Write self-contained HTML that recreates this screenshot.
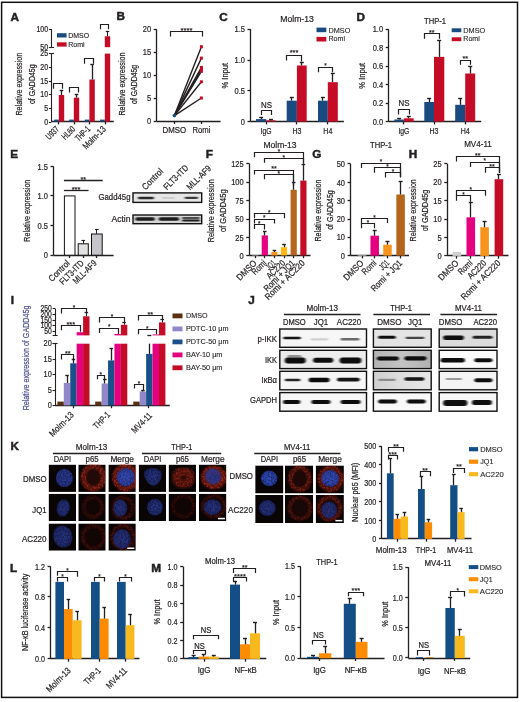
<!DOCTYPE html>
<html><head><meta charset="utf-8"><title>Figure</title>
<style>
html,body{margin:0;padding:0;background:#fff;}
body{width:520px;height:702px;overflow:hidden;}
svg{display:block;font-family:"Liberation Sans",sans-serif;will-change:transform;}
</style></head><body>
<svg width="520" height="702" viewBox="0 0 520 702" fill="#231f20">
<defs>
<filter id="bl" x="-30%" y="-300%" width="160%" height="700%"><feGaussianBlur stdDeviation="1.1 0.65"/></filter>
<filter id="bl2" x="-30%" y="-300%" width="160%" height="700%"><feGaussianBlur stdDeviation="0.9"/></filter>
<filter id="bl3" x="-30%" y="-30%" width="160%" height="160%"><feGaussianBlur stdDeviation="0.6"/></filter>
<filter id="bl4" x="-30%" y="-30%" width="160%" height="160%"><feGaussianBlur stdDeviation="0.35"/></filter>
<radialGradient id="nuc" cx="50%" cy="50%" r="55%">
<stop offset="0" stop-color="#2c3c9c"/><stop offset="0.75" stop-color="#273690"/><stop offset="1" stop-color="#1a2160"/>
</radialGradient>
<radialGradient id="nucb" cx="50%" cy="50%" r="55%">
<stop offset="0" stop-color="#3350c8"/><stop offset="0.7" stop-color="#2b46b4"/><stop offset="1" stop-color="#1c2a78"/>
</radialGradient>
<radialGradient id="nucd" cx="50%" cy="50%" r="55%">
<stop offset="0" stop-color="#27368a"/><stop offset="0.7" stop-color="#212e78"/><stop offset="1" stop-color="#141a4e"/>
</radialGradient>
<linearGradient id="bgT2" x1="0" x2="1" y1="0" y2="0">
<stop offset="0" stop-color="#b4b4b4"/><stop offset="0.5" stop-color="#c4c4c4"/><stop offset="1" stop-color="#b0b0b0"/>
</linearGradient>
<linearGradient id="bgT3" x1="0" x2="1" y1="0" y2="0">
<stop offset="0" stop-color="#cfcfcf"/><stop offset="0.5" stop-color="#dedede"/><stop offset="1" stop-color="#e8e8e8"/>
</linearGradient>
<filter id="spk" x="-20%" y="-20%" width="140%" height="140%" color-interpolation-filters="sRGB">
<feTurbulence type="fractalNoise" baseFrequency="0.55" numOctaves="2" seed="7" result="n"/>
<feColorMatrix in="n" type="matrix" values="0 0 0 0 0 0 0 0 0 0 0 0 0 0 0 5 0 0 0 -2.3" result="a"/>
<feComposite in="SourceGraphic" in2="a" operator="in" result="s"/>
<feGaussianBlur in="s" stdDeviation="0.3"/>
</filter>
<filter id="nspk" x="-20%" y="-20%" width="140%" height="140%" color-interpolation-filters="sRGB">
<feTurbulence type="fractalNoise" baseFrequency="0.6" numOctaves="2" seed="3" result="n"/>
<feColorMatrix in="n" type="matrix" values="0 0 0 0 0 0 0 0 0 0 0 0 0 0 0 1.1 0 0 0 0.25" result="a"/>
<feComposite in="SourceGraphic" in2="a" operator="in" result="s"/>
<feGaussianBlur in="s" stdDeviation="0.3"/>
</filter>
<filter id="rb" x="-30%" y="-30%" width="160%" height="160%"><feGaussianBlur stdDeviation="1.3"/></filter>
</defs>

<rect x="1.6" y="2.3" width="515.9" height="695.1" fill="none" stroke="#111" stroke-width="1.5"/>
<text x="10.64" y="20.8" textLength="8.49" lengthAdjust="spacingAndGlyphs" style="font-size:10.5px;font-weight:bold;stroke:#231f20;stroke-width:0.45px">A</text>
<line x1="51.5" y1="29" x2="51.5" y2="47.5" stroke="#231f20" stroke-width="1.1"/>
<line x1="48.9" y1="29.5" x2="51.3" y2="29.5" stroke="#231f20" stroke-width="1.1"/>
<text x="48.1" y="31.5" text-anchor="end" textLength="11.68" lengthAdjust="spacingAndGlyphs" style="font-size:8.4px;stroke:#231f20;stroke-width:0.22px">100</text>
<line x1="48.9" y1="47.5" x2="51.3" y2="47.5" stroke="#231f20" stroke-width="1.1"/>
<text x="48.1" y="49.5" text-anchor="end" textLength="7.79" lengthAdjust="spacingAndGlyphs" style="font-size:8.4px;stroke:#231f20;stroke-width:0.22px">50</text>
<line x1="51.3" y1="47.5" x2="54.1" y2="47.5" stroke="#231f20" stroke-width="1.1"/>
<line x1="51.5" y1="53.5" x2="51.5" y2="121.6" stroke="#231f20" stroke-width="1.1"/>
<line x1="48.9" y1="53.5" x2="51.3" y2="53.5" stroke="#231f20" stroke-width="1.1"/>
<text x="48.1" y="56" text-anchor="end" textLength="7.79" lengthAdjust="spacingAndGlyphs" style="font-size:8.4px;stroke:#231f20;stroke-width:0.22px">25</text>
<line x1="48.9" y1="67.5" x2="51.3" y2="67.5" stroke="#231f20" stroke-width="1.1"/>
<text x="48.1" y="69.75" text-anchor="end" textLength="7.79" lengthAdjust="spacingAndGlyphs" style="font-size:8.4px;stroke:#231f20;stroke-width:0.22px">20</text>
<line x1="48.9" y1="81.5" x2="51.3" y2="81.5" stroke="#231f20" stroke-width="1.1"/>
<text x="48.1" y="83.5" text-anchor="end" textLength="7.79" lengthAdjust="spacingAndGlyphs" style="font-size:8.4px;stroke:#231f20;stroke-width:0.22px">15</text>
<line x1="48.9" y1="94.5" x2="51.3" y2="94.5" stroke="#231f20" stroke-width="1.1"/>
<text x="48.1" y="97.25" text-anchor="end" textLength="7.79" lengthAdjust="spacingAndGlyphs" style="font-size:8.4px;stroke:#231f20;stroke-width:0.22px">10</text>
<line x1="48.9" y1="108.5" x2="51.3" y2="108.5" stroke="#231f20" stroke-width="1.1"/>
<text x="48.1" y="111" text-anchor="end" textLength="3.89" lengthAdjust="spacingAndGlyphs" style="font-size:8.4px;stroke:#231f20;stroke-width:0.22px">5</text>
<line x1="48.9" y1="122.5" x2="51.3" y2="122.5" stroke="#231f20" stroke-width="1.1"/>
<text x="48.1" y="124.5" text-anchor="end" textLength="3.89" lengthAdjust="spacingAndGlyphs" style="font-size:8.4px;stroke:#231f20;stroke-width:0.22px">0</text>
<line x1="51.3" y1="53.5" x2="54.1" y2="53.5" stroke="#231f20" stroke-width="1.1"/>
<line x1="51.3" y1="121.5" x2="113.8" y2="121.5" stroke="#231f20" stroke-width="1.3"/>
<line x1="58.5" y1="121.6" x2="58.5" y2="124.4" stroke="#231f20" stroke-width="1.3"/>
<line x1="74.5" y1="121.6" x2="74.5" y2="124.4" stroke="#231f20" stroke-width="1.3"/>
<line x1="89.5" y1="121.6" x2="89.5" y2="124.4" stroke="#231f20" stroke-width="1.3"/>
<line x1="105.5" y1="121.6" x2="105.5" y2="124.4" stroke="#231f20" stroke-width="1.3"/>
<rect x="54.2" y="119.6" width="4.6" height="2" fill="#1a4b80"/>
<rect x="58.8" y="95" width="5.4" height="26.6" fill="#c40c26"/>
<line x1="61.5" y1="95" x2="61.5" y2="90.3" stroke="#231f20" stroke-width="1.3"/>
<line x1="59.7" y1="90.5" x2="63.3" y2="90.5" stroke="#231f20" stroke-width="1.4"/>
<rect x="69.2" y="119.6" width="4.6" height="2" fill="#1a4b80"/>
<rect x="73.8" y="97.7" width="5.4" height="23.9" fill="#c40c26"/>
<line x1="76.5" y1="97.7" x2="76.5" y2="94.3" stroke="#231f20" stroke-width="1.3"/>
<line x1="74.7" y1="94.5" x2="78.3" y2="94.5" stroke="#231f20" stroke-width="1.4"/>
<rect x="84.8" y="119.6" width="4.6" height="2" fill="#1a4b80"/>
<rect x="89.4" y="79.5" width="5.4" height="42.1" fill="#c40c26"/>
<line x1="92.5" y1="79.5" x2="92.5" y2="64.8" stroke="#231f20" stroke-width="1.3"/>
<line x1="90.3" y1="64.5" x2="93.9" y2="64.5" stroke="#231f20" stroke-width="1.4"/>
<rect x="100" y="119.6" width="4.8" height="2" fill="#1a4b80"/>
<rect x="104.8" y="53.6" width="5.4" height="68" fill="#c40c26"/>
<rect x="104.8" y="36.3" width="5.4" height="10.9" fill="#c40c26"/>
<line x1="107.5" y1="36.3" x2="107.5" y2="31.3" stroke="#231f20" stroke-width="1"/>
<line x1="105.7" y1="31.5" x2="109.3" y2="31.5" stroke="#231f20" stroke-width="1.2"/>
<polyline points="53.5,88.8 53.5,83.5 62.5,83.5 62.5,88.8" fill="none" stroke="#231f20" stroke-width="1.2"/>
<polyline points="69.5,92.6 69.5,87.5 78.5,87.5 78.5,92.6" fill="none" stroke="#231f20" stroke-width="1.2"/>
<polyline points="84.5,63.8 84.5,58.5 93.5,58.5 93.5,63.8" fill="none" stroke="#231f20" stroke-width="1.2"/>
<polyline points="100.5,29.3 100.5,24.5 108.5,24.5 108.5,29.3" fill="none" stroke="#231f20" stroke-width="1.2"/>
<rect x="57" y="33.2" width="9.6" height="4.3" fill="#1a4b80"/>
<text x="68.2" y="37.8" textLength="21" lengthAdjust="spacingAndGlyphs" style="font-size:7.7px;stroke:#231f20;stroke-width:0.15px">DMSO</text>
<rect x="57" y="42.3" width="9.6" height="4.3" fill="#c40c26"/>
<text x="68.2" y="46.9" textLength="16.34" lengthAdjust="spacingAndGlyphs" style="font-size:7.7px;stroke:#231f20;stroke-width:0.15px">Romi</text>
<text x="22.41" y="84.2" text-anchor="middle" transform="rotate(-90 22.41 84.2)" textLength="62.8" lengthAdjust="spacingAndGlyphs" style="font-size:8.64px;stroke:#231f20;stroke-width:0.22px">Relative expression</text>
<text x="34.71" y="84.2" text-anchor="middle" transform="rotate(-90 34.71 84.2)" textLength="39.7" lengthAdjust="spacingAndGlyphs" style="font-size:8.64px;stroke:#231f20;stroke-width:0.22px">of GADD45g</text>
<text x="59.8" y="129.7" text-anchor="end" transform="rotate(-45 59.8 129.7)" textLength="15" lengthAdjust="spacingAndGlyphs" style="font-size:9px;stroke:#231f20;stroke-width:0.22px">U937</text>
<text x="75.8" y="129.7" text-anchor="end" transform="rotate(-45 75.8 129.7)" textLength="15" lengthAdjust="spacingAndGlyphs" style="font-size:9px;stroke:#231f20;stroke-width:0.22px">HL60</text>
<text x="90.8" y="129.7" text-anchor="end" transform="rotate(-45 90.8 129.7)" textLength="17" lengthAdjust="spacingAndGlyphs" style="font-size:9px;stroke:#231f20;stroke-width:0.22px">THP-1</text>
<text x="106.3" y="129.7" text-anchor="end" transform="rotate(-45 106.3 129.7)" textLength="28.5" lengthAdjust="spacingAndGlyphs" style="font-size:9px;stroke:#231f20;stroke-width:0.22px">Molm-13</text>
<text x="116.64" y="19.8" textLength="8.49" lengthAdjust="spacingAndGlyphs" style="font-size:10.5px;font-weight:bold;stroke:#231f20;stroke-width:0.45px">B</text>
<line x1="156.5" y1="29.2" x2="156.5" y2="121.2" stroke="#231f20" stroke-width="1.3"/>
<line x1="153.7" y1="29.5" x2="156.7" y2="29.5" stroke="#231f20" stroke-width="1.3"/>
<text x="151.1" y="32.44" text-anchor="end" textLength="8.34" lengthAdjust="spacingAndGlyphs" style="font-size:9px;stroke:#231f20;stroke-width:0.22px">20</text>
<line x1="153.7" y1="52.5" x2="156.7" y2="52.5" stroke="#231f20" stroke-width="1.3"/>
<text x="151.1" y="55.44" text-anchor="end" textLength="8.34" lengthAdjust="spacingAndGlyphs" style="font-size:9px;stroke:#231f20;stroke-width:0.22px">15</text>
<line x1="153.7" y1="75.5" x2="156.7" y2="75.5" stroke="#231f20" stroke-width="1.3"/>
<text x="151.1" y="78.44" text-anchor="end" textLength="8.34" lengthAdjust="spacingAndGlyphs" style="font-size:9px;stroke:#231f20;stroke-width:0.22px">10</text>
<line x1="153.7" y1="98.5" x2="156.7" y2="98.5" stroke="#231f20" stroke-width="1.3"/>
<text x="151.1" y="101.44" text-anchor="end" textLength="4.17" lengthAdjust="spacingAndGlyphs" style="font-size:9px;stroke:#231f20;stroke-width:0.22px">5</text>
<line x1="153.7" y1="121.5" x2="156.7" y2="121.5" stroke="#231f20" stroke-width="1.3"/>
<text x="151.1" y="124.34" text-anchor="end" textLength="4.17" lengthAdjust="spacingAndGlyphs" style="font-size:9px;stroke:#231f20;stroke-width:0.22px">0</text>
<line x1="156.7" y1="121.5" x2="220.6" y2="121.5" stroke="#231f20" stroke-width="1.3"/>
<line x1="174.5" y1="121.2" x2="174.5" y2="124" stroke="#231f20" stroke-width="1.3"/>
<line x1="201.5" y1="121.2" x2="201.5" y2="124" stroke="#231f20" stroke-width="1.3"/>
<line x1="174.4" y1="115.6" x2="201.4" y2="46.7" stroke="#231f20" stroke-width="1.4"/>
<line x1="174.4" y1="115.6" x2="201.4" y2="58.1" stroke="#231f20" stroke-width="1.4"/>
<line x1="174.4" y1="115.6" x2="201.4" y2="67.4" stroke="#231f20" stroke-width="1.4"/>
<line x1="174.4" y1="115.6" x2="201.4" y2="69.6" stroke="#231f20" stroke-width="1.4"/>
<line x1="174.4" y1="115.6" x2="201.4" y2="71.3" stroke="#231f20" stroke-width="1.4"/>
<line x1="174.4" y1="115.6" x2="201.4" y2="81.8" stroke="#231f20" stroke-width="1.4"/>
<line x1="174.4" y1="115.6" x2="201.4" y2="98" stroke="#231f20" stroke-width="1.4"/>
<rect x="199.9" y="45.2" width="3" height="3" fill="#c40c26"/>
<rect x="199.9" y="56.6" width="3" height="3" fill="#c40c26"/>
<rect x="199.9" y="65.9" width="3" height="3" fill="#c40c26"/>
<rect x="199.9" y="68.1" width="3" height="3" fill="#c40c26"/>
<rect x="199.9" y="69.8" width="3" height="3" fill="#c40c26"/>
<rect x="199.9" y="80.3" width="3" height="3" fill="#c40c26"/>
<rect x="199.9" y="96.5" width="3" height="3" fill="#c40c26"/>
<circle cx="174.4" cy="115.6" r="1.8" fill="#1a4b80"/>
<polyline points="170.5,36.4 170.5,31.5 202.5,31.5 202.5,36.4" fill="none" stroke="#231f20" stroke-width="1.2"/>
<text x="186.5" y="32.8" text-anchor="middle" textLength="11.8" lengthAdjust="spacingAndGlyphs" style="font-size:8.04px;stroke:#231f20;stroke-width:0.22px">****</text>
<text x="174.4" y="133.3" text-anchor="middle" textLength="23.6" lengthAdjust="spacingAndGlyphs" style="font-size:9.12px;stroke:#231f20;stroke-width:0.22px">DMSO</text>
<text x="201.4" y="133.3" text-anchor="middle" textLength="18" lengthAdjust="spacingAndGlyphs" style="font-size:9.12px;stroke:#231f20;stroke-width:0.22px">Romi</text>
<text x="124.61" y="84" text-anchor="middle" transform="rotate(-90 124.61 84)" textLength="63.2" lengthAdjust="spacingAndGlyphs" style="font-size:8.64px;stroke:#231f20;stroke-width:0.22px">Relative expression</text>
<text x="137.31" y="84.4" text-anchor="middle" transform="rotate(-90 137.31 84.4)" textLength="39.1" lengthAdjust="spacingAndGlyphs" style="font-size:8.64px;stroke:#231f20;stroke-width:0.22px">of GADD45g</text>
<text x="219.24" y="21.3" textLength="8.49" lengthAdjust="spacingAndGlyphs" style="font-size:10.5px;font-weight:bold;stroke:#231f20;stroke-width:0.45px">C</text>
<text x="297" y="22.2" text-anchor="middle" textLength="33.5" lengthAdjust="spacingAndGlyphs" style="font-size:9.12px;stroke:#231f20;stroke-width:0.22px">Molm-13</text>
<line x1="250.5" y1="29.1" x2="250.5" y2="121.6" stroke="#231f20" stroke-width="1.3"/>
<line x1="247.5" y1="29.5" x2="250.5" y2="29.5" stroke="#231f20" stroke-width="1.3"/>
<text x="244.9" y="32.34" text-anchor="end" textLength="10.43" lengthAdjust="spacingAndGlyphs" style="font-size:9px;stroke:#231f20;stroke-width:0.22px">1.5</text>
<line x1="247.5" y1="60.5" x2="250.5" y2="60.5" stroke="#231f20" stroke-width="1.3"/>
<text x="244.9" y="63.24" text-anchor="end" textLength="10.43" lengthAdjust="spacingAndGlyphs" style="font-size:9px;stroke:#231f20;stroke-width:0.22px">1.0</text>
<line x1="247.5" y1="90.5" x2="250.5" y2="90.5" stroke="#231f20" stroke-width="1.3"/>
<text x="244.9" y="94.14" text-anchor="end" textLength="10.43" lengthAdjust="spacingAndGlyphs" style="font-size:9px;stroke:#231f20;stroke-width:0.22px">0.5</text>
<line x1="247.5" y1="121.5" x2="250.5" y2="121.5" stroke="#231f20" stroke-width="1.3"/>
<text x="244.9" y="124.74" text-anchor="end" textLength="4.17" lengthAdjust="spacingAndGlyphs" style="font-size:9px;stroke:#231f20;stroke-width:0.22px">0</text>
<line x1="250.5" y1="121.5" x2="343.9" y2="121.5" stroke="#231f20" stroke-width="1.3"/>
<line x1="266.5" y1="121.6" x2="266.5" y2="124.4" stroke="#231f20" stroke-width="1.3"/>
<line x1="296.5" y1="121.6" x2="296.5" y2="124.4" stroke="#231f20" stroke-width="1.3"/>
<line x1="327.5" y1="121.6" x2="327.5" y2="124.4" stroke="#231f20" stroke-width="1.3"/>
<rect x="256" y="119.1" width="10.3" height="2.5" fill="#1a4b80"/>
<line x1="261.5" y1="119.1" x2="261.5" y2="117.6" stroke="#231f20" stroke-width="1.3"/>
<line x1="259.15" y1="117.5" x2="263.15" y2="117.5" stroke="#231f20" stroke-width="1.4"/>
<rect x="266.3" y="120.3" width="9.3" height="1.3" fill="#c40c26"/>
<line x1="270.5" y1="120.3" x2="270.5" y2="119.5" stroke="#231f20" stroke-width="1.3"/>
<line x1="268.95" y1="119.5" x2="272.95" y2="119.5" stroke="#231f20" stroke-width="1.4"/>
<rect x="286.7" y="100.7" width="10.2" height="20.9" fill="#1a4b80"/>
<line x1="291.5" y1="100.7" x2="291.5" y2="97" stroke="#231f20" stroke-width="1.3"/>
<line x1="289.8" y1="97.5" x2="293.8" y2="97.5" stroke="#231f20" stroke-width="1.4"/>
<rect x="296.9" y="65.5" width="9.8" height="56.1" fill="#c40c26"/>
<line x1="301.5" y1="65.5" x2="301.5" y2="62.4" stroke="#231f20" stroke-width="1.3"/>
<line x1="299.8" y1="62.5" x2="303.8" y2="62.5" stroke="#231f20" stroke-width="1.4"/>
<rect x="318" y="100.7" width="9.8" height="20.9" fill="#1a4b80"/>
<line x1="322.5" y1="100.7" x2="322.5" y2="97" stroke="#231f20" stroke-width="1.3"/>
<line x1="320.9" y1="97.5" x2="324.9" y2="97.5" stroke="#231f20" stroke-width="1.4"/>
<rect x="327.8" y="82.2" width="10" height="39.4" fill="#c40c26"/>
<line x1="332.5" y1="82.2" x2="332.5" y2="73.9" stroke="#231f20" stroke-width="1.3"/>
<line x1="330.8" y1="73.5" x2="334.8" y2="73.5" stroke="#231f20" stroke-width="1.4"/>
<polyline points="261.5,114.9 261.5,110.5 271.5,110.5 271.5,114.9" fill="none" stroke="#231f20" stroke-width="1.2"/>
<text x="266.6" y="108.3" text-anchor="middle" textLength="11" lengthAdjust="spacingAndGlyphs" style="font-size:9px;stroke:#231f20;stroke-width:0.22px">NS</text>
<polyline points="286.5,60.4 286.5,55.5 301.5,55.5 301.5,61.4" fill="none" stroke="#231f20" stroke-width="1.2"/>
<text x="294" y="55" text-anchor="middle" textLength="8.7" lengthAdjust="spacingAndGlyphs" style="font-size:7.8px;stroke:#231f20;stroke-width:0.22px">***</text>
<polyline points="318.5,72.3 318.5,67.5 332.5,67.5 332.5,72.3" fill="none" stroke="#231f20" stroke-width="1.2"/>
<text x="325.4" y="68" text-anchor="middle" textLength="2.5" lengthAdjust="spacingAndGlyphs" style="font-size:7.8px;stroke:#231f20;stroke-width:0.22px">*</text>
<rect x="316.5" y="27.6" width="9.8" height="4.6" fill="#1a4b80"/>
<text x="328.5" y="33" textLength="21.8" lengthAdjust="spacingAndGlyphs" style="font-size:7.56px;stroke:#231f20;stroke-width:0.12px">DMSO</text>
<rect x="316.5" y="36.9" width="9.8" height="4.6" fill="#c40c26"/>
<text x="328.5" y="41.4" textLength="16.5" lengthAdjust="spacingAndGlyphs" style="font-size:7.56px;stroke:#231f20;stroke-width:0.12px">Romi</text>
<text x="228.27" y="75.7" text-anchor="middle" transform="rotate(-90 228.27 75.7)" textLength="25.8" lengthAdjust="spacingAndGlyphs" style="font-size:9.36px;stroke:#231f20;stroke-width:0.22px">% Input</text>
<text x="266" y="133.5" text-anchor="middle" textLength="11" lengthAdjust="spacingAndGlyphs" style="font-size:9.12px;stroke:#231f20;stroke-width:0.22px">IgG</text>
<text x="296.9" y="133.5" text-anchor="middle" textLength="9" lengthAdjust="spacingAndGlyphs" style="font-size:9.12px;stroke:#231f20;stroke-width:0.22px">H3</text>
<text x="327.8" y="133.5" text-anchor="middle" textLength="9" lengthAdjust="spacingAndGlyphs" style="font-size:9.12px;stroke:#231f20;stroke-width:0.22px">H4</text>
<text x="356.44" y="21.3" textLength="8.49" lengthAdjust="spacingAndGlyphs" style="font-size:10.5px;font-weight:bold;stroke:#231f20;stroke-width:0.45px">D</text>
<text x="435" y="23.6" text-anchor="middle" textLength="22" lengthAdjust="spacingAndGlyphs" style="font-size:9.12px;stroke:#231f20;stroke-width:0.22px">THP-1</text>
<line x1="388.5" y1="29.1" x2="388.5" y2="121.6" stroke="#231f20" stroke-width="1.3"/>
<line x1="385.7" y1="29.5" x2="388.7" y2="29.5" stroke="#231f20" stroke-width="1.3"/>
<text x="383.1" y="32.34" text-anchor="end" textLength="10.43" lengthAdjust="spacingAndGlyphs" style="font-size:9px;stroke:#231f20;stroke-width:0.22px">1.0</text>
<line x1="385.7" y1="47.5" x2="388.7" y2="47.5" stroke="#231f20" stroke-width="1.3"/>
<text x="383.1" y="50.84" text-anchor="end" textLength="10.43" lengthAdjust="spacingAndGlyphs" style="font-size:9px;stroke:#231f20;stroke-width:0.22px">0.8</text>
<line x1="385.7" y1="66.5" x2="388.7" y2="66.5" stroke="#231f20" stroke-width="1.3"/>
<text x="383.1" y="69.34" text-anchor="end" textLength="10.43" lengthAdjust="spacingAndGlyphs" style="font-size:9px;stroke:#231f20;stroke-width:0.22px">0.6</text>
<line x1="385.7" y1="84.5" x2="388.7" y2="84.5" stroke="#231f20" stroke-width="1.3"/>
<text x="383.1" y="87.84" text-anchor="end" textLength="10.43" lengthAdjust="spacingAndGlyphs" style="font-size:9px;stroke:#231f20;stroke-width:0.22px">0.4</text>
<line x1="385.7" y1="103.5" x2="388.7" y2="103.5" stroke="#231f20" stroke-width="1.3"/>
<text x="383.1" y="106.24" text-anchor="end" textLength="10.43" lengthAdjust="spacingAndGlyphs" style="font-size:9px;stroke:#231f20;stroke-width:0.22px">0.2</text>
<line x1="385.7" y1="121.5" x2="388.7" y2="121.5" stroke="#231f20" stroke-width="1.3"/>
<text x="383.1" y="124.74" text-anchor="end" textLength="10.43" lengthAdjust="spacingAndGlyphs" style="font-size:9px;stroke:#231f20;stroke-width:0.22px">0.0</text>
<line x1="388.7" y1="121.5" x2="481.2" y2="121.5" stroke="#231f20" stroke-width="1.3"/>
<line x1="403.5" y1="121.6" x2="403.5" y2="124.4" stroke="#231f20" stroke-width="1.3"/>
<line x1="434.5" y1="121.6" x2="434.5" y2="124.4" stroke="#231f20" stroke-width="1.3"/>
<line x1="465.5" y1="121.6" x2="465.5" y2="124.4" stroke="#231f20" stroke-width="1.3"/>
<rect x="394.3" y="119.5" width="9.6" height="2.1" fill="#1a4b80"/>
<line x1="399.5" y1="119.5" x2="399.5" y2="118.3" stroke="#231f20" stroke-width="1.3"/>
<line x1="397.1" y1="118.5" x2="401.1" y2="118.5" stroke="#231f20" stroke-width="1.4"/>
<rect x="403.9" y="118.3" width="9.8" height="3.3" fill="#c40c26"/>
<line x1="408.5" y1="118.3" x2="408.5" y2="116.7" stroke="#231f20" stroke-width="1.3"/>
<line x1="406.8" y1="116.5" x2="410.8" y2="116.5" stroke="#231f20" stroke-width="1.4"/>
<rect x="424.3" y="102" width="9.7" height="19.6" fill="#1a4b80"/>
<line x1="429.5" y1="102" x2="429.5" y2="98.4" stroke="#231f20" stroke-width="1.3"/>
<line x1="427.15" y1="98.5" x2="431.15" y2="98.5" stroke="#231f20" stroke-width="1.4"/>
<rect x="434" y="56.9" width="10.3" height="64.7" fill="#c40c26"/>
<line x1="439.5" y1="56.9" x2="439.5" y2="40.6" stroke="#231f20" stroke-width="1.3"/>
<line x1="437.15" y1="40.5" x2="441.15" y2="40.5" stroke="#231f20" stroke-width="1.4"/>
<rect x="455.2" y="104.8" width="10" height="16.8" fill="#1a4b80"/>
<line x1="460.5" y1="104.8" x2="460.5" y2="98.7" stroke="#231f20" stroke-width="1.3"/>
<line x1="458.2" y1="98.5" x2="462.2" y2="98.5" stroke="#231f20" stroke-width="1.4"/>
<rect x="465.2" y="73.5" width="10" height="48.1" fill="#c40c26"/>
<line x1="470.5" y1="73.5" x2="470.5" y2="66.5" stroke="#231f20" stroke-width="1.3"/>
<line x1="468.2" y1="66.5" x2="472.2" y2="66.5" stroke="#231f20" stroke-width="1.4"/>
<polyline points="398.5,114.6 398.5,109.5 409.5,109.5 409.5,114.6" fill="none" stroke="#231f20" stroke-width="1.2"/>
<text x="404" y="106.3" text-anchor="middle" textLength="11" lengthAdjust="spacingAndGlyphs" style="font-size:9px;stroke:#231f20;stroke-width:0.22px">NS</text>
<polyline points="424.5,38.7 424.5,33.5 439.5,33.5 439.5,38.7" fill="none" stroke="#231f20" stroke-width="1.2"/>
<text x="431.8" y="34.6" text-anchor="middle" textLength="5.6" lengthAdjust="spacingAndGlyphs" style="font-size:7.8px;stroke:#231f20;stroke-width:0.22px">**</text>
<polyline points="460.5,64.8 460.5,60.5 470.5,60.5 470.5,64.8" fill="none" stroke="#231f20" stroke-width="1.2"/>
<text x="465.2" y="61.2" text-anchor="middle" textLength="5.6" lengthAdjust="spacingAndGlyphs" style="font-size:7.8px;stroke:#231f20;stroke-width:0.22px">**</text>
<rect x="451.7" y="28.3" width="9.6" height="3.9" fill="#1a4b80"/>
<text x="463.3" y="33" textLength="22" lengthAdjust="spacingAndGlyphs" style="font-size:7.56px;stroke:#231f20;stroke-width:0.12px">DMSO</text>
<rect x="451.7" y="37.3" width="9.6" height="3.9" fill="#c40c26"/>
<text x="463.3" y="41.4" textLength="16.5" lengthAdjust="spacingAndGlyphs" style="font-size:7.56px;stroke:#231f20;stroke-width:0.12px">Romi</text>
<text x="365.37" y="75.8" text-anchor="middle" transform="rotate(-90 365.37 75.8)" textLength="25.8" lengthAdjust="spacingAndGlyphs" style="font-size:9.36px;stroke:#231f20;stroke-width:0.22px">% Input</text>
<text x="403.9" y="133.5" text-anchor="middle" textLength="11" lengthAdjust="spacingAndGlyphs" style="font-size:9.12px;stroke:#231f20;stroke-width:0.22px">IgG</text>
<text x="434" y="133.5" text-anchor="middle" textLength="9" lengthAdjust="spacingAndGlyphs" style="font-size:9.12px;stroke:#231f20;stroke-width:0.22px">H3</text>
<text x="465.2" y="133.5" text-anchor="middle" textLength="9" lengthAdjust="spacingAndGlyphs" style="font-size:9.12px;stroke:#231f20;stroke-width:0.22px">H4</text>
<text x="10.26" y="157.6" textLength="7.84" lengthAdjust="spacingAndGlyphs" style="font-size:10.5px;font-weight:bold;stroke:#231f20;stroke-width:0.45px">E</text>
<line x1="53.5" y1="166.3" x2="53.5" y2="255.2" stroke="#231f20" stroke-width="1.3"/>
<line x1="50.5" y1="166.5" x2="53.5" y2="166.5" stroke="#231f20" stroke-width="1.3"/>
<text x="47.9" y="169.54" text-anchor="end" textLength="10.43" lengthAdjust="spacingAndGlyphs" style="font-size:9px;stroke:#231f20;stroke-width:0.22px">1.5</text>
<line x1="50.5" y1="195.5" x2="53.5" y2="195.5" stroke="#231f20" stroke-width="1.3"/>
<text x="47.9" y="199.14" text-anchor="end" textLength="10.43" lengthAdjust="spacingAndGlyphs" style="font-size:9px;stroke:#231f20;stroke-width:0.22px">1.0</text>
<line x1="50.5" y1="225.5" x2="53.5" y2="225.5" stroke="#231f20" stroke-width="1.3"/>
<text x="47.9" y="228.84" text-anchor="end" textLength="10.43" lengthAdjust="spacingAndGlyphs" style="font-size:9px;stroke:#231f20;stroke-width:0.22px">0.5</text>
<line x1="50.5" y1="255.5" x2="53.5" y2="255.5" stroke="#231f20" stroke-width="1.3"/>
<text x="47.9" y="258.24" text-anchor="end" textLength="4.17" lengthAdjust="spacingAndGlyphs" style="font-size:9px;stroke:#231f20;stroke-width:0.22px">0</text>
<line x1="53.5" y1="255.5" x2="113.6" y2="255.5" stroke="#231f20" stroke-width="1.3"/>
<line x1="69.5" y1="255.2" x2="69.5" y2="258" stroke="#231f20" stroke-width="1.3"/>
<line x1="83.5" y1="255.2" x2="83.5" y2="258" stroke="#231f20" stroke-width="1.3"/>
<line x1="96.5" y1="255.2" x2="96.5" y2="258" stroke="#231f20" stroke-width="1.3"/>
<rect x="64.4" y="195.9" width="10.6" height="59.3" fill="#ffffff" stroke="#111" stroke-width="1"/>
<rect x="78.2" y="243.8" width="10.1" height="11.4" fill="#e1e1e3" stroke="#111" stroke-width="1"/>
<line x1="83.5" y1="243.8" x2="83.5" y2="240.6" stroke="#231f20" stroke-width="1"/>
<line x1="81.5" y1="240.5" x2="85" y2="240.5" stroke="#231f20" stroke-width="1.2"/>
<rect x="91.5" y="234" width="10.7" height="21.2" fill="#c6c5cc" stroke="#111" stroke-width="1"/>
<line x1="96.5" y1="234" x2="96.5" y2="229.7" stroke="#231f20" stroke-width="1"/>
<line x1="95.1" y1="229.5" x2="98.6" y2="229.5" stroke="#231f20" stroke-width="1.2"/>
<line x1="63.9" y1="190.5" x2="88.5" y2="190.5" stroke="#231f20" stroke-width="1.3"/>
<text x="76" y="192.3" text-anchor="middle" textLength="8.7" lengthAdjust="spacingAndGlyphs" style="font-size:7.8px;stroke:#231f20;stroke-width:0.22px">***</text>
<line x1="63.9" y1="180.5" x2="102.7" y2="180.5" stroke="#231f20" stroke-width="1.3"/>
<text x="83.2" y="181.9" text-anchor="middle" textLength="5.6" lengthAdjust="spacingAndGlyphs" style="font-size:7.8px;stroke:#231f20;stroke-width:0.22px">**</text>
<text x="29.91" y="210.7" text-anchor="middle" transform="rotate(-90 29.91 210.7)" textLength="62" lengthAdjust="spacingAndGlyphs" style="font-size:8.64px;stroke:#231f20;stroke-width:0.22px">Relative expression</text>
<text x="70.4" y="263.8" text-anchor="end" transform="rotate(-45 70.4 263.8)" textLength="26" lengthAdjust="spacingAndGlyphs" style="font-size:9px;stroke:#231f20;stroke-width:0.22px">Control</text>
<text x="84.4" y="263.8" text-anchor="end" transform="rotate(-45 84.4 263.8)" textLength="30.2" lengthAdjust="spacingAndGlyphs" style="font-size:9px;stroke:#231f20;stroke-width:0.22px">FLT3-ITD</text>
<text x="97.2" y="263.8" text-anchor="end" transform="rotate(-45 97.2 263.8)" textLength="29.2" lengthAdjust="spacingAndGlyphs" style="font-size:9px;stroke:#231f20;stroke-width:0.22px">MLL-AF9</text>
<text x="130.5" y="200.2" text-anchor="end" textLength="32" lengthAdjust="spacingAndGlyphs" style="font-size:9.12px;stroke:#231f20;stroke-width:0.22px">Gadd45g</text>
<text x="130.5" y="222.3" text-anchor="end" textLength="19" lengthAdjust="spacingAndGlyphs" style="font-size:9.12px;stroke:#231f20;stroke-width:0.22px">Actin</text>
<text x="145.4" y="190.4" transform="rotate(-45 145.4 190.4)" textLength="26" lengthAdjust="spacingAndGlyphs" style="font-size:9px;stroke:#231f20;stroke-width:0.22px">Control</text>
<text x="167" y="190.4" transform="rotate(-45 167 190.4)" textLength="31" lengthAdjust="spacingAndGlyphs" style="font-size:9px;stroke:#231f20;stroke-width:0.22px">FLT3-ITD</text>
<text x="190.3" y="190.4" transform="rotate(-45 190.3 190.4)" textLength="30" lengthAdjust="spacingAndGlyphs" style="font-size:9px;stroke:#231f20;stroke-width:0.22px">MLL-AF9</text>
<text x="205.69" y="158.2" textLength="7.18" lengthAdjust="spacingAndGlyphs" style="font-size:10.5px;font-weight:bold;stroke:#231f20;stroke-width:0.45px">F</text>
<text x="280" y="147.5" text-anchor="middle" textLength="33.2" lengthAdjust="spacingAndGlyphs" style="font-size:9.12px;stroke:#231f20;stroke-width:0.22px">Molm-13</text>
<line x1="249.5" y1="163.5" x2="249.5" y2="255.4" stroke="#231f20" stroke-width="1.3"/>
<line x1="246.3" y1="163.5" x2="249.3" y2="163.5" stroke="#231f20" stroke-width="1.3"/>
<text x="243.7" y="166.74" text-anchor="end" textLength="12.51" lengthAdjust="spacingAndGlyphs" style="font-size:9px;stroke:#231f20;stroke-width:0.22px">125</text>
<line x1="246.3" y1="182.5" x2="249.3" y2="182.5" stroke="#231f20" stroke-width="1.3"/>
<text x="243.7" y="185.24" text-anchor="end" textLength="12.51" lengthAdjust="spacingAndGlyphs" style="font-size:9px;stroke:#231f20;stroke-width:0.22px">100</text>
<line x1="246.3" y1="200.5" x2="249.3" y2="200.5" stroke="#231f20" stroke-width="1.3"/>
<text x="243.7" y="203.84" text-anchor="end" textLength="8.34" lengthAdjust="spacingAndGlyphs" style="font-size:9px;stroke:#231f20;stroke-width:0.22px">75</text>
<line x1="246.3" y1="219.5" x2="249.3" y2="219.5" stroke="#231f20" stroke-width="1.3"/>
<text x="243.7" y="222.24" text-anchor="end" textLength="8.34" lengthAdjust="spacingAndGlyphs" style="font-size:9px;stroke:#231f20;stroke-width:0.22px">50</text>
<line x1="246.3" y1="237.5" x2="249.3" y2="237.5" stroke="#231f20" stroke-width="1.3"/>
<text x="243.7" y="240.84" text-anchor="end" textLength="8.34" lengthAdjust="spacingAndGlyphs" style="font-size:9px;stroke:#231f20;stroke-width:0.22px">25</text>
<line x1="246.3" y1="255.5" x2="249.3" y2="255.5" stroke="#231f20" stroke-width="1.3"/>
<text x="243.7" y="258.64" text-anchor="end" textLength="4.17" lengthAdjust="spacingAndGlyphs" style="font-size:9px;stroke:#231f20;stroke-width:0.22px">0</text>
<line x1="249.3" y1="255.5" x2="310.5" y2="255.5" stroke="#231f20" stroke-width="1.3"/>
<line x1="255.5" y1="255.4" x2="255.5" y2="258.2" stroke="#231f20" stroke-width="1.3"/>
<line x1="264.5" y1="255.4" x2="264.5" y2="258.2" stroke="#231f20" stroke-width="1.3"/>
<line x1="274.5" y1="255.4" x2="274.5" y2="258.2" stroke="#231f20" stroke-width="1.3"/>
<line x1="284.5" y1="255.4" x2="284.5" y2="258.2" stroke="#231f20" stroke-width="1.3"/>
<line x1="293.5" y1="255.4" x2="293.5" y2="258.2" stroke="#231f20" stroke-width="1.3"/>
<line x1="303.5" y1="255.4" x2="303.5" y2="258.2" stroke="#231f20" stroke-width="1.3"/>
<rect x="252.1" y="254.8" width="6.2" height="0.6" fill="#d0d0d0"/>
<rect x="261.7" y="235.4" width="6.2" height="20" fill="#e4007f"/>
<line x1="264.5" y1="235.4" x2="264.5" y2="231.2" stroke="#231f20" stroke-width="1.3"/>
<line x1="263" y1="231.5" x2="266.6" y2="231.5" stroke="#231f20" stroke-width="1.4"/>
<rect x="271.3" y="252" width="6.2" height="3.4" fill="#f7941d"/>
<line x1="274.5" y1="252" x2="274.5" y2="250.2" stroke="#231f20" stroke-width="1.3"/>
<line x1="272.6" y1="250.5" x2="276.2" y2="250.5" stroke="#231f20" stroke-width="1.4"/>
<rect x="280.9" y="247.2" width="6.2" height="8.2" fill="#fbb912"/>
<line x1="284.5" y1="247.2" x2="284.5" y2="244.6" stroke="#231f20" stroke-width="1.3"/>
<line x1="282.2" y1="244.5" x2="285.8" y2="244.5" stroke="#231f20" stroke-width="1.4"/>
<rect x="290.6" y="189.8" width="6.2" height="65.6" fill="#b5661c"/>
<line x1="293.5" y1="189.8" x2="293.5" y2="182" stroke="#231f20" stroke-width="1.3"/>
<line x1="291.9" y1="182.5" x2="295.5" y2="182.5" stroke="#231f20" stroke-width="1.4"/>
<rect x="300.3" y="180.6" width="6.2" height="74.8" fill="#c40c26"/>
<line x1="303.5" y1="180.6" x2="303.5" y2="164.6" stroke="#231f20" stroke-width="1.3"/>
<line x1="301.6" y1="164.5" x2="305.2" y2="164.5" stroke="#231f20" stroke-width="1.4"/>
<polyline points="254.5,157.3 254.5,152.5 303.5,152.5 303.5,163.8" fill="none" stroke="#231f20" stroke-width="1.2"/>
<text x="279" y="154.2" text-anchor="middle" textLength="2.5" lengthAdjust="spacingAndGlyphs" style="font-size:7.8px;stroke:#231f20;stroke-width:0.22px">*</text>
<polyline points="264.5,162.7 264.5,158.5 303.5,158.5 303.5,163.2" fill="none" stroke="#231f20" stroke-width="1.2"/>
<text x="283.85" y="159.6" text-anchor="middle" textLength="2.5" lengthAdjust="spacingAndGlyphs" style="font-size:7.8px;stroke:#231f20;stroke-width:0.22px">*</text>
<polyline points="254.5,174.5 254.5,170.5 293.5,170.5 293.5,186" fill="none" stroke="#231f20" stroke-width="1.2"/>
<text x="273.95" y="171.4" text-anchor="middle" textLength="5.6" lengthAdjust="spacingAndGlyphs" style="font-size:7.8px;stroke:#231f20;stroke-width:0.22px">**</text>
<polyline points="264.5,179.3 264.5,174.5 293.5,174.5 293.5,184.8" fill="none" stroke="#231f20" stroke-width="1.2"/>
<text x="278.8" y="176.2" text-anchor="middle" textLength="2.5" lengthAdjust="spacingAndGlyphs" style="font-size:7.8px;stroke:#231f20;stroke-width:0.22px">*</text>
<polyline points="254.5,218.2 254.5,213.5 284.5,213.5 284.5,218.2" fill="none" stroke="#231f20" stroke-width="1.2"/>
<text x="269.35" y="215.1" text-anchor="middle" textLength="2.5" lengthAdjust="spacingAndGlyphs" style="font-size:7.8px;stroke:#231f20;stroke-width:0.22px">*</text>
<polyline points="254.5,223.5 254.5,219.5 274.5,219.5 274.5,223.5" fill="none" stroke="#231f20" stroke-width="1.2"/>
<text x="264.35" y="220.4" text-anchor="middle" textLength="2.5" lengthAdjust="spacingAndGlyphs" style="font-size:7.8px;stroke:#231f20;stroke-width:0.22px">*</text>
<polyline points="254.5,228.9 254.5,224.5 264.5,224.5 264.5,229.4" fill="none" stroke="#231f20" stroke-width="1.2"/>
<text x="259.35" y="225.8" text-anchor="middle" textLength="2.5" lengthAdjust="spacingAndGlyphs" style="font-size:7.8px;stroke:#231f20;stroke-width:0.22px">*</text>
<text x="213.81" y="210.8" text-anchor="middle" transform="rotate(-90 213.81 210.8)" textLength="62.9" lengthAdjust="spacingAndGlyphs" style="font-size:8.64px;stroke:#231f20;stroke-width:0.22px">Relative expression</text>
<text x="225.91" y="210.7" text-anchor="middle" transform="rotate(-90 225.91 210.7)" textLength="42.6" lengthAdjust="spacingAndGlyphs" style="font-size:8.64px;stroke:#231f20;stroke-width:0.22px">of GADD45g</text>
<text x="257.3" y="263.7" text-anchor="end" transform="rotate(-45 257.3 263.7)" textLength="24.5" lengthAdjust="spacingAndGlyphs" style="font-size:9px;stroke:#231f20;stroke-width:0.22px">DMSO</text>
<text x="266.8" y="263.7" text-anchor="end" transform="rotate(-45 266.8 263.7)" textLength="16.5" lengthAdjust="spacingAndGlyphs" style="font-size:9px;stroke:#231f20;stroke-width:0.22px">Romi</text>
<text x="276.3" y="263.7" text-anchor="end" transform="rotate(-45 276.3 263.7)" textLength="10" lengthAdjust="spacingAndGlyphs" style="font-size:9px;stroke:#231f20;stroke-width:0.22px">JQ1</text>
<text x="285.8" y="263.7" text-anchor="end" transform="rotate(-45 285.8 263.7)" textLength="22.5" lengthAdjust="spacingAndGlyphs" style="font-size:9px;stroke:#231f20;stroke-width:0.22px">AC220</text>
<text x="295.6" y="263.7" text-anchor="end" transform="rotate(-45 295.6 263.7)" textLength="40" lengthAdjust="spacingAndGlyphs" style="font-size:9px;stroke:#231f20;stroke-width:0.22px">Romi + JQ1</text>
<text x="305.3" y="263.7" text-anchor="end" transform="rotate(-45 305.3 263.7)" textLength="52" lengthAdjust="spacingAndGlyphs" style="font-size:9px;stroke:#231f20;stroke-width:0.22px">Romi + AC220</text>
<text x="312.31" y="158.4" textLength="9.15" lengthAdjust="spacingAndGlyphs" style="font-size:10.5px;font-weight:bold;stroke:#231f20;stroke-width:0.45px">G</text>
<text x="381" y="147.5" text-anchor="middle" textLength="22" lengthAdjust="spacingAndGlyphs" style="font-size:9.12px;stroke:#231f20;stroke-width:0.22px">THP-1</text>
<line x1="350.5" y1="163.9" x2="350.5" y2="255.6" stroke="#231f20" stroke-width="1.3"/>
<line x1="347.6" y1="163.5" x2="350.6" y2="163.5" stroke="#231f20" stroke-width="1.3"/>
<text x="345" y="167.14" text-anchor="end" textLength="8.34" lengthAdjust="spacingAndGlyphs" style="font-size:9px;stroke:#231f20;stroke-width:0.22px">50</text>
<line x1="347.6" y1="182.5" x2="350.6" y2="182.5" stroke="#231f20" stroke-width="1.3"/>
<text x="345" y="185.54" text-anchor="end" textLength="8.34" lengthAdjust="spacingAndGlyphs" style="font-size:9px;stroke:#231f20;stroke-width:0.22px">40</text>
<line x1="347.6" y1="200.5" x2="350.6" y2="200.5" stroke="#231f20" stroke-width="1.3"/>
<text x="345" y="203.74" text-anchor="end" textLength="8.34" lengthAdjust="spacingAndGlyphs" style="font-size:9px;stroke:#231f20;stroke-width:0.22px">30</text>
<line x1="347.6" y1="219.5" x2="350.6" y2="219.5" stroke="#231f20" stroke-width="1.3"/>
<text x="345" y="222.24" text-anchor="end" textLength="8.34" lengthAdjust="spacingAndGlyphs" style="font-size:9px;stroke:#231f20;stroke-width:0.22px">20</text>
<line x1="347.6" y1="237.5" x2="350.6" y2="237.5" stroke="#231f20" stroke-width="1.3"/>
<text x="345" y="240.44" text-anchor="end" textLength="8.34" lengthAdjust="spacingAndGlyphs" style="font-size:9px;stroke:#231f20;stroke-width:0.22px">10</text>
<line x1="347.6" y1="255.5" x2="350.6" y2="255.5" stroke="#231f20" stroke-width="1.3"/>
<text x="345" y="258.64" text-anchor="end" textLength="4.17" lengthAdjust="spacingAndGlyphs" style="font-size:9px;stroke:#231f20;stroke-width:0.22px">0</text>
<line x1="350.6" y1="255.5" x2="409" y2="255.5" stroke="#231f20" stroke-width="1.3"/>
<line x1="362.5" y1="255.6" x2="362.5" y2="258.4" stroke="#231f20" stroke-width="1.3"/>
<line x1="374.5" y1="255.6" x2="374.5" y2="258.4" stroke="#231f20" stroke-width="1.3"/>
<line x1="387.5" y1="255.6" x2="387.5" y2="258.4" stroke="#231f20" stroke-width="1.3"/>
<line x1="400.5" y1="255.6" x2="400.5" y2="258.4" stroke="#231f20" stroke-width="1.3"/>
<rect x="357.75" y="255" width="8.5" height="0.6" fill="#d0d0d0"/>
<rect x="370.45" y="235.7" width="8.5" height="19.9" fill="#e4007f"/>
<line x1="374.5" y1="235.7" x2="374.5" y2="230.8" stroke="#231f20" stroke-width="1.3"/>
<line x1="372.7" y1="230.5" x2="376.7" y2="230.5" stroke="#231f20" stroke-width="1.4"/>
<rect x="383.25" y="244.7" width="8.5" height="10.9" fill="#f7941d"/>
<line x1="387.5" y1="244.7" x2="387.5" y2="241.7" stroke="#231f20" stroke-width="1.3"/>
<line x1="385.5" y1="241.5" x2="389.5" y2="241.5" stroke="#231f20" stroke-width="1.4"/>
<rect x="396.35" y="194.5" width="8.5" height="61.1" fill="#b5661c"/>
<line x1="400.5" y1="194.5" x2="400.5" y2="181.7" stroke="#231f20" stroke-width="1.3"/>
<line x1="398.6" y1="181.5" x2="402.6" y2="181.5" stroke="#231f20" stroke-width="1.4"/>
<polyline points="361.5,168 361.5,163.5 400.5,163.5 400.5,177" fill="none" stroke="#231f20" stroke-width="1.2"/>
<text x="380.95" y="164.4" text-anchor="middle" textLength="2.5" lengthAdjust="spacingAndGlyphs" style="font-size:7.8px;stroke:#231f20;stroke-width:0.22px">*</text>
<polyline points="374.5,172.8 374.5,167.5 400.5,167.5 400.5,176.8" fill="none" stroke="#231f20" stroke-width="1.2"/>
<text x="387.4" y="169.2" text-anchor="middle" textLength="2.5" lengthAdjust="spacingAndGlyphs" style="font-size:7.8px;stroke:#231f20;stroke-width:0.22px">*</text>
<polyline points="385.5,177.5 385.5,172.5 400.5,172.5 400.5,177.5" fill="none" stroke="#231f20" stroke-width="1.2"/>
<text x="392.95" y="173.9" text-anchor="middle" textLength="2.5" lengthAdjust="spacingAndGlyphs" style="font-size:7.8px;stroke:#231f20;stroke-width:0.22px">*</text>
<polyline points="361.5,223.6 361.5,218.5 387.5,218.5 387.5,223.1" fill="none" stroke="#231f20" stroke-width="1.2"/>
<text x="374.55" y="220" text-anchor="middle" textLength="2.5" lengthAdjust="spacingAndGlyphs" style="font-size:7.8px;stroke:#231f20;stroke-width:0.22px">*</text>
<polyline points="361.5,228.3 361.5,223.5 374.5,223.5 374.5,228.3" fill="none" stroke="#231f20" stroke-width="1.2"/>
<text x="367.95" y="224.7" text-anchor="middle" textLength="2.5" lengthAdjust="spacingAndGlyphs" style="font-size:7.8px;stroke:#231f20;stroke-width:0.22px">*</text>
<text x="320.71" y="210.5" text-anchor="middle" transform="rotate(-90 320.71 210.5)" textLength="62" lengthAdjust="spacingAndGlyphs" style="font-size:8.64px;stroke:#231f20;stroke-width:0.22px">Relative expression</text>
<text x="332.81" y="210" text-anchor="middle" transform="rotate(-90 332.81 210)" textLength="39.5" lengthAdjust="spacingAndGlyphs" style="font-size:8.64px;stroke:#231f20;stroke-width:0.22px">of GADD45g</text>
<text x="364.3" y="263.7" text-anchor="end" transform="rotate(-45 364.3 263.7)" textLength="24.5" lengthAdjust="spacingAndGlyphs" style="font-size:9px;stroke:#231f20;stroke-width:0.22px">DMSO</text>
<text x="377" y="263.7" text-anchor="end" transform="rotate(-45 377 263.7)" textLength="16.5" lengthAdjust="spacingAndGlyphs" style="font-size:9px;stroke:#231f20;stroke-width:0.22px">Romi</text>
<text x="389.8" y="263.7" text-anchor="end" transform="rotate(-45 389.8 263.7)" textLength="10" lengthAdjust="spacingAndGlyphs" style="font-size:9px;stroke:#231f20;stroke-width:0.22px">JQ1</text>
<text x="402.8" y="263.7" text-anchor="end" transform="rotate(-45 402.8 263.7)" textLength="40" lengthAdjust="spacingAndGlyphs" style="font-size:9px;stroke:#231f20;stroke-width:0.22px">Romi + JQ1</text>
<text x="408.84" y="158.2" textLength="8.49" lengthAdjust="spacingAndGlyphs" style="font-size:10.5px;font-weight:bold;stroke:#231f20;stroke-width:0.45px">H</text>
<text x="478" y="147.2" text-anchor="middle" textLength="27.7" lengthAdjust="spacingAndGlyphs" style="font-size:9.12px;stroke:#231f20;stroke-width:0.22px">MV4-11</text>
<line x1="447.5" y1="163.8" x2="447.5" y2="255.9" stroke="#231f20" stroke-width="1.3"/>
<line x1="444.3" y1="163.5" x2="447.3" y2="163.5" stroke="#231f20" stroke-width="1.3"/>
<text x="441.7" y="167.04" text-anchor="end" textLength="8.34" lengthAdjust="spacingAndGlyphs" style="font-size:9px;stroke:#231f20;stroke-width:0.22px">25</text>
<line x1="444.3" y1="182.5" x2="447.3" y2="182.5" stroke="#231f20" stroke-width="1.3"/>
<text x="441.7" y="185.44" text-anchor="end" textLength="8.34" lengthAdjust="spacingAndGlyphs" style="font-size:9px;stroke:#231f20;stroke-width:0.22px">20</text>
<line x1="444.3" y1="200.5" x2="447.3" y2="200.5" stroke="#231f20" stroke-width="1.3"/>
<text x="441.7" y="203.94" text-anchor="end" textLength="8.34" lengthAdjust="spacingAndGlyphs" style="font-size:9px;stroke:#231f20;stroke-width:0.22px">15</text>
<line x1="444.3" y1="219.5" x2="447.3" y2="219.5" stroke="#231f20" stroke-width="1.3"/>
<text x="441.7" y="222.44" text-anchor="end" textLength="8.34" lengthAdjust="spacingAndGlyphs" style="font-size:9px;stroke:#231f20;stroke-width:0.22px">10</text>
<line x1="444.3" y1="237.5" x2="447.3" y2="237.5" stroke="#231f20" stroke-width="1.3"/>
<text x="441.7" y="240.84" text-anchor="end" textLength="4.17" lengthAdjust="spacingAndGlyphs" style="font-size:9px;stroke:#231f20;stroke-width:0.22px">5</text>
<line x1="444.3" y1="255.5" x2="447.3" y2="255.5" stroke="#231f20" stroke-width="1.3"/>
<text x="441.7" y="259.04" text-anchor="end" textLength="4.17" lengthAdjust="spacingAndGlyphs" style="font-size:9px;stroke:#231f20;stroke-width:0.22px">0</text>
<line x1="447.3" y1="255.5" x2="508.5" y2="255.5" stroke="#231f20" stroke-width="1.3"/>
<line x1="456.5" y1="255.9" x2="456.5" y2="258.7" stroke="#231f20" stroke-width="1.3"/>
<line x1="470.5" y1="255.9" x2="470.5" y2="258.7" stroke="#231f20" stroke-width="1.3"/>
<line x1="484.5" y1="255.9" x2="484.5" y2="258.7" stroke="#231f20" stroke-width="1.3"/>
<line x1="498.5" y1="255.9" x2="498.5" y2="258.7" stroke="#231f20" stroke-width="1.3"/>
<rect x="452.6" y="252" width="8.6" height="3.9" fill="#d0d0d0"/>
<rect x="466.5" y="217.3" width="8.6" height="38.6" fill="#e4007f"/>
<line x1="470.5" y1="217.3" x2="470.5" y2="202.8" stroke="#231f20" stroke-width="1.3"/>
<line x1="468.8" y1="202.5" x2="472.8" y2="202.5" stroke="#231f20" stroke-width="1.4"/>
<rect x="480.3" y="227.2" width="8.6" height="28.7" fill="#f7941d"/>
<line x1="484.5" y1="227.2" x2="484.5" y2="221.2" stroke="#231f20" stroke-width="1.3"/>
<line x1="482.6" y1="221.5" x2="486.6" y2="221.5" stroke="#231f20" stroke-width="1.4"/>
<rect x="494.6" y="179.2" width="8.6" height="76.7" fill="#c40c26"/>
<line x1="498.5" y1="179.2" x2="498.5" y2="174.2" stroke="#231f20" stroke-width="1.3"/>
<line x1="496.9" y1="174.5" x2="500.9" y2="174.5" stroke="#231f20" stroke-width="1.4"/>
<polyline points="456.5,161.6 456.5,156.5 499.5,156.5 499.5,172.6" fill="none" stroke="#231f20" stroke-width="1.2"/>
<text x="477.85" y="158" text-anchor="middle" textLength="5.6" lengthAdjust="spacingAndGlyphs" style="font-size:7.8px;stroke:#231f20;stroke-width:0.22px">**</text>
<polyline points="470.5,167 470.5,162.5 499.5,162.5 499.5,173" fill="none" stroke="#231f20" stroke-width="1.2"/>
<text x="484.8" y="163.4" text-anchor="middle" textLength="2.5" lengthAdjust="spacingAndGlyphs" style="font-size:7.8px;stroke:#231f20;stroke-width:0.22px">*</text>
<polyline points="485.5,172.7 485.5,167.5 499.5,167.5 499.5,172.7" fill="none" stroke="#231f20" stroke-width="1.2"/>
<text x="492.1" y="169.1" text-anchor="middle" textLength="5.6" lengthAdjust="spacingAndGlyphs" style="font-size:7.8px;stroke:#231f20;stroke-width:0.22px">**</text>
<polyline points="456.5,195.8 456.5,190.5 485.5,190.5 485.5,195.8" fill="none" stroke="#231f20" stroke-width="1.2"/>
<text x="470.75" y="192.2" text-anchor="middle" textLength="2.5" lengthAdjust="spacingAndGlyphs" style="font-size:7.8px;stroke:#231f20;stroke-width:0.22px">*</text>
<polyline points="456.5,200.8 456.5,195.5 470.5,195.5 470.5,201.8" fill="none" stroke="#231f20" stroke-width="1.2"/>
<text x="463.45" y="197.2" text-anchor="middle" textLength="2.5" lengthAdjust="spacingAndGlyphs" style="font-size:7.8px;stroke:#231f20;stroke-width:0.22px">*</text>
<text x="416.41" y="210.3" text-anchor="middle" transform="rotate(-90 416.41 210.3)" textLength="62.3" lengthAdjust="spacingAndGlyphs" style="font-size:8.64px;stroke:#231f20;stroke-width:0.22px">Relative expression</text>
<text x="428.31" y="210.4" text-anchor="middle" transform="rotate(-90 428.31 210.4)" textLength="41.6" lengthAdjust="spacingAndGlyphs" style="font-size:8.64px;stroke:#231f20;stroke-width:0.22px">of GADD45g</text>
<text x="459.2" y="263.7" text-anchor="end" transform="rotate(-45 459.2 263.7)" textLength="24.5" lengthAdjust="spacingAndGlyphs" style="font-size:9px;stroke:#231f20;stroke-width:0.22px">DMSO</text>
<text x="473.1" y="263.7" text-anchor="end" transform="rotate(-45 473.1 263.7)" textLength="16.5" lengthAdjust="spacingAndGlyphs" style="font-size:9px;stroke:#231f20;stroke-width:0.22px">Romi</text>
<text x="486.9" y="263.7" text-anchor="end" transform="rotate(-45 486.9 263.7)" textLength="22.5" lengthAdjust="spacingAndGlyphs" style="font-size:9px;stroke:#231f20;stroke-width:0.22px">AC220</text>
<text x="501.2" y="263.7" text-anchor="end" transform="rotate(-45 501.2 263.7)" textLength="52" lengthAdjust="spacingAndGlyphs" style="font-size:9px;stroke:#231f20;stroke-width:0.22px">Romi + AC220</text>
<text x="10.86" y="304.2" textLength="3.27" lengthAdjust="spacingAndGlyphs" style="font-size:10.5px;font-weight:bold;stroke:#231f20;stroke-width:0.45px">I</text>
<line x1="55.5" y1="308.5" x2="55.5" y2="335.6" stroke="#231f20" stroke-width="1.1"/>
<line x1="52.6" y1="308.5" x2="55" y2="308.5" stroke="#231f20" stroke-width="1.1"/>
<text x="51.8" y="310.9" text-anchor="end" textLength="11.35" lengthAdjust="spacingAndGlyphs" style="font-size:8.16px;stroke:#231f20;stroke-width:0.22px">250</text>
<line x1="52.6" y1="314.5" x2="55" y2="314.5" stroke="#231f20" stroke-width="1.1"/>
<text x="51.8" y="316.7" text-anchor="end" textLength="11.35" lengthAdjust="spacingAndGlyphs" style="font-size:8.16px;stroke:#231f20;stroke-width:0.22px">200</text>
<line x1="52.6" y1="320.5" x2="55" y2="320.5" stroke="#231f20" stroke-width="1.1"/>
<text x="51.8" y="322.5" text-anchor="end" textLength="11.35" lengthAdjust="spacingAndGlyphs" style="font-size:8.16px;stroke:#231f20;stroke-width:0.22px">150</text>
<line x1="52.6" y1="325.5" x2="55" y2="325.5" stroke="#231f20" stroke-width="1.1"/>
<text x="51.8" y="328.3" text-anchor="end" textLength="11.35" lengthAdjust="spacingAndGlyphs" style="font-size:8.16px;stroke:#231f20;stroke-width:0.22px">100</text>
<line x1="52.6" y1="331.5" x2="55" y2="331.5" stroke="#231f20" stroke-width="1.1"/>
<text x="51.8" y="334.1" text-anchor="end" textLength="7.56" lengthAdjust="spacingAndGlyphs" style="font-size:8.16px;stroke:#231f20;stroke-width:0.22px">50</text>
<line x1="52.6" y1="335.5" x2="57.6" y2="335.5" stroke="#231f20" stroke-width="1.1"/>
<line x1="55.5" y1="343.7" x2="55.5" y2="405.4" stroke="#231f20" stroke-width="1.1"/>
<line x1="52.6" y1="343.5" x2="55" y2="343.5" stroke="#231f20" stroke-width="1.1"/>
<text x="51.8" y="346.3" text-anchor="end" textLength="8.23" lengthAdjust="spacingAndGlyphs" style="font-size:8.88px;stroke:#231f20;stroke-width:0.22px">20</text>
<line x1="52.6" y1="359.5" x2="55" y2="359.5" stroke="#231f20" stroke-width="1.1"/>
<text x="51.8" y="361.6" text-anchor="end" textLength="8.23" lengthAdjust="spacingAndGlyphs" style="font-size:8.88px;stroke:#231f20;stroke-width:0.22px">15</text>
<line x1="52.6" y1="374.5" x2="55" y2="374.5" stroke="#231f20" stroke-width="1.1"/>
<text x="51.8" y="376.9" text-anchor="end" textLength="8.23" lengthAdjust="spacingAndGlyphs" style="font-size:8.88px;stroke:#231f20;stroke-width:0.22px">10</text>
<line x1="52.6" y1="390.5" x2="55" y2="390.5" stroke="#231f20" stroke-width="1.1"/>
<text x="51.8" y="392.6" text-anchor="end" textLength="4.12" lengthAdjust="spacingAndGlyphs" style="font-size:8.88px;stroke:#231f20;stroke-width:0.22px">5</text>
<line x1="52.6" y1="405.5" x2="55" y2="405.5" stroke="#231f20" stroke-width="1.1"/>
<text x="51.8" y="407.8" text-anchor="end" textLength="4.12" lengthAdjust="spacingAndGlyphs" style="font-size:8.88px;stroke:#231f20;stroke-width:0.22px">0</text>
<line x1="52.6" y1="343.5" x2="57.6" y2="343.5" stroke="#231f20" stroke-width="1.1"/>
<line x1="55" y1="405.5" x2="169.8" y2="405.5" stroke="#231f20" stroke-width="1.3"/>
<line x1="73.5" y1="405.4" x2="73.5" y2="408.2" stroke="#231f20" stroke-width="1.3"/>
<line x1="111.5" y1="405.4" x2="111.5" y2="408.2" stroke="#231f20" stroke-width="1.3"/>
<line x1="148.5" y1="405.4" x2="148.5" y2="408.2" stroke="#231f20" stroke-width="1.3"/>
<rect x="57.4" y="401.6" width="6.42" height="3.8" fill="#5a3010"/>
<rect x="63.82" y="383" width="6.42" height="22.4" fill="#9088c8"/>
<line x1="67.5" y1="383" x2="67.5" y2="375.6" stroke="#231f20" stroke-width="1.3"/>
<line x1="65.28" y1="375.5" x2="68.78" y2="375.5" stroke="#231f20" stroke-width="1.4"/>
<rect x="70.24" y="363.3" width="6.42" height="42.1" fill="#1a4f8a"/>
<line x1="73.5" y1="363.3" x2="73.5" y2="359.4" stroke="#231f20" stroke-width="1.3"/>
<line x1="71.7" y1="359.5" x2="75.2" y2="359.5" stroke="#231f20" stroke-width="1.4"/>
<rect x="76.66" y="343.7" width="6.42" height="61.7" fill="#e4007f"/>
<rect x="83.08" y="343.7" width="6.42" height="61.7" fill="#c40c26"/>
<rect x="76.66" y="332.2" width="6.42" height="3.2" fill="#e4007f"/>
<rect x="83.08" y="316.3" width="6.42" height="19.1" fill="#c40c26"/>
<line x1="86.5" y1="316.3" x2="86.5" y2="312.5" stroke="#231f20" stroke-width="1"/>
<line x1="84.49" y1="312.5" x2="88.09" y2="312.5" stroke="#231f20" stroke-width="1.2"/>
<rect x="95.2" y="401.6" width="6.42" height="3.8" fill="#5a3010"/>
<rect x="101.62" y="383.5" width="6.42" height="21.9" fill="#9088c8"/>
<line x1="104.5" y1="383.5" x2="104.5" y2="379.8" stroke="#231f20" stroke-width="1.3"/>
<line x1="103.08" y1="379.5" x2="106.58" y2="379.5" stroke="#231f20" stroke-width="1.4"/>
<rect x="108.04" y="360.4" width="6.42" height="45" fill="#1a4f8a"/>
<line x1="111.5" y1="360.4" x2="111.5" y2="348" stroke="#231f20" stroke-width="1.3"/>
<line x1="109.5" y1="348.5" x2="113" y2="348.5" stroke="#231f20" stroke-width="1.4"/>
<rect x="114.46" y="343.7" width="6.42" height="61.7" fill="#e4007f"/>
<rect x="120.88" y="343.7" width="6.42" height="61.7" fill="#c40c26"/>
<rect x="114.46" y="334" width="6.42" height="1.4" fill="#e4007f"/>
<rect x="120.88" y="324.8" width="6.42" height="10.6" fill="#c40c26"/>
<line x1="124.5" y1="324.8" x2="124.5" y2="322" stroke="#231f20" stroke-width="1"/>
<line x1="122.29" y1="322.5" x2="125.89" y2="322.5" stroke="#231f20" stroke-width="1.2"/>
<rect x="133.3" y="401.6" width="6.42" height="3.8" fill="#5a3010"/>
<rect x="139.72" y="391.5" width="6.42" height="13.9" fill="#9088c8"/>
<line x1="142.5" y1="391.5" x2="142.5" y2="390" stroke="#231f20" stroke-width="1.3"/>
<line x1="141.18" y1="390.5" x2="144.68" y2="390.5" stroke="#231f20" stroke-width="1.4"/>
<rect x="146.14" y="353.9" width="6.42" height="51.5" fill="#1a4f8a"/>
<line x1="149.5" y1="353.9" x2="149.5" y2="343.7" stroke="#231f20" stroke-width="1.3"/>
<line x1="147.35" y1="335.5" x2="151.35" y2="335.5" stroke="#231f20" stroke-width="1.3"/>
<rect x="152.56" y="343.7" width="6.42" height="61.7" fill="#e4007f"/>
<rect x="158.98" y="343.7" width="6.42" height="61.7" fill="#c40c26"/>
<rect x="152.56" y="334.4" width="6.42" height="1" fill="#e4007f"/>
<rect x="158.98" y="322.4" width="6.42" height="13" fill="#c40c26"/>
<line x1="162.5" y1="322.4" x2="162.5" y2="319.5" stroke="#231f20" stroke-width="1"/>
<line x1="160.39" y1="319.5" x2="163.99" y2="319.5" stroke="#231f20" stroke-width="1.2"/>
<polyline points="61.5,313.5 61.5,308.5 86.5,308.5 86.5,314" fill="none" stroke="#231f20" stroke-width="1.2"/>
<text x="74" y="309.9" text-anchor="middle" textLength="2.5" lengthAdjust="spacingAndGlyphs" style="font-size:7.8px;stroke:#231f20;stroke-width:0.22px">*</text>
<polyline points="61.5,330.2 61.5,325.5 80.5,325.5 80.5,331.7" fill="none" stroke="#231f20" stroke-width="1.2"/>
<text x="70.75" y="326.6" text-anchor="middle" textLength="8.7" lengthAdjust="spacingAndGlyphs" style="font-size:7.8px;stroke:#231f20;stroke-width:0.22px">***</text>
<polyline points="61.5,359.4 61.5,354.5 73.5,354.5 73.5,359.4" fill="none" stroke="#231f20" stroke-width="1.2"/>
<text x="67.7" y="355.8" text-anchor="middle" textLength="5.6" lengthAdjust="spacingAndGlyphs" style="font-size:7.8px;stroke:#231f20;stroke-width:0.22px">**</text>
<polyline points="99.5,322.4 99.5,317.5 124.5,317.5 124.5,323.4" fill="none" stroke="#231f20" stroke-width="1.2"/>
<text x="111.9" y="318.8" text-anchor="middle" textLength="2.5" lengthAdjust="spacingAndGlyphs" style="font-size:7.8px;stroke:#231f20;stroke-width:0.22px">*</text>
<polyline points="99.5,333 99.5,328.5 118.5,328.5 118.5,334" fill="none" stroke="#231f20" stroke-width="1.2"/>
<text x="109.15" y="329.4" text-anchor="middle" textLength="2.5" lengthAdjust="spacingAndGlyphs" style="font-size:7.8px;stroke:#231f20;stroke-width:0.22px">*</text>
<polyline points="97.5,379.2 97.5,375.5 104.5,375.5 104.5,379.8" fill="none" stroke="#231f20" stroke-width="1.2"/>
<text x="100.7" y="376.6" text-anchor="middle" textLength="2.5" lengthAdjust="spacingAndGlyphs" style="font-size:7.8px;stroke:#231f20;stroke-width:0.22px">*</text>
<polyline points="138.5,320.6 138.5,315.5 162.5,315.5 162.5,321.6" fill="none" stroke="#231f20" stroke-width="1.2"/>
<text x="150.35" y="317" text-anchor="middle" textLength="5.6" lengthAdjust="spacingAndGlyphs" style="font-size:7.8px;stroke:#231f20;stroke-width:0.22px">**</text>
<polyline points="138.5,334.3 138.5,329.5 156.5,329.5 156.5,334.3" fill="none" stroke="#231f20" stroke-width="1.2"/>
<text x="147.3" y="330.7" text-anchor="middle" textLength="2.5" lengthAdjust="spacingAndGlyphs" style="font-size:7.8px;stroke:#231f20;stroke-width:0.22px">*</text>
<polyline points="134.5,388.4 134.5,384.5 143.5,384.5 143.5,390" fill="none" stroke="#231f20" stroke-width="1.2"/>
<text x="138.95" y="385.8" text-anchor="middle" textLength="2.5" lengthAdjust="spacingAndGlyphs" style="font-size:7.8px;stroke:#231f20;stroke-width:0.22px">*</text>
<text x="29" y="358" fill="#4c508c" text-anchor="middle" transform="rotate(-90 29 358)" textLength="104.7" lengthAdjust="spacingAndGlyphs" style="font-size:8.88px;stroke:#4c508c;stroke-width:0.22px">Relative expression of GADD45g</text>
<text x="74.5" y="415.4" text-anchor="end" transform="rotate(-45 74.5 415.4)" textLength="30.8" lengthAdjust="spacingAndGlyphs" style="font-size:9px;stroke:#231f20;stroke-width:0.22px">Molm-13</text>
<text x="110.7" y="415.4" text-anchor="end" transform="rotate(-45 110.7 415.4)" textLength="19.8" lengthAdjust="spacingAndGlyphs" style="font-size:9px;stroke:#231f20;stroke-width:0.22px">THP-1</text>
<text x="152.5" y="416.2" text-anchor="end" transform="rotate(-45 152.5 416.2)" textLength="24.7" lengthAdjust="spacingAndGlyphs" style="font-size:9px;stroke:#231f20;stroke-width:0.22px">MV4-11</text>
<rect x="172.5" y="313.5" width="10" height="4.8" fill="#5a3010"/>
<text x="186" y="318.4" textLength="21.5" lengthAdjust="spacingAndGlyphs" style="font-size:7.78px;stroke:#231f20;stroke-width:0.12px">DMSO</text>
<rect x="172.5" y="326.5" width="10" height="4.8" fill="#9088c8"/>
<text x="186" y="331.4" textLength="42.5" lengthAdjust="spacingAndGlyphs" style="font-size:7.78px;stroke:#231f20;stroke-width:0.12px">PDTC-10 μm</text>
<rect x="172.5" y="339.5" width="10" height="4.8" fill="#1a4f8a"/>
<text x="186" y="344.4" textLength="42.5" lengthAdjust="spacingAndGlyphs" style="font-size:7.78px;stroke:#231f20;stroke-width:0.12px">PDTC-50 μm</text>
<rect x="172.5" y="352.5" width="10" height="4.8" fill="#e4007f"/>
<text x="186" y="357.4" textLength="36.5" lengthAdjust="spacingAndGlyphs" style="font-size:7.78px;stroke:#231f20;stroke-width:0.12px">BAY-10 μm</text>
<rect x="172.5" y="365.4" width="10" height="4.8" fill="#c40c26"/>
<text x="186" y="370.3" textLength="36.5" lengthAdjust="spacingAndGlyphs" style="font-size:7.78px;stroke:#231f20;stroke-width:0.12px">BAY-50 μm</text>
<text x="248.32" y="304" textLength="6.54" lengthAdjust="spacingAndGlyphs" style="font-size:10.5px;font-weight:bold;stroke:#231f20;stroke-width:0.45px">J</text>
<text x="322.2" y="311.3" text-anchor="middle" textLength="31.5" lengthAdjust="spacingAndGlyphs" style="font-size:8.64px;stroke:#231f20;stroke-width:0.22px">Molm-13</text>
<line x1="284" y1="314.5" x2="360.5" y2="314.5" stroke="#231f20" stroke-width="1.3"/>
<text x="401" y="311.3" text-anchor="middle" textLength="21.6" lengthAdjust="spacingAndGlyphs" style="font-size:8.64px;stroke:#231f20;stroke-width:0.22px">THP-1</text>
<line x1="373.4" y1="314.5" x2="430" y2="314.5" stroke="#231f20" stroke-width="1.3"/>
<text x="468.5" y="311.3" text-anchor="middle" textLength="27" lengthAdjust="spacingAndGlyphs" style="font-size:8.64px;stroke:#231f20;stroke-width:0.22px">MV4-11</text>
<line x1="440.4" y1="314.5" x2="497" y2="314.5" stroke="#231f20" stroke-width="1.3"/>
<text x="294.4" y="325.2" text-anchor="middle" textLength="22.7" lengthAdjust="spacingAndGlyphs" style="font-size:8.64px;stroke:#231f20;stroke-width:0.22px">DMSO</text>
<text x="321" y="325.2" text-anchor="middle" textLength="14.4" lengthAdjust="spacingAndGlyphs" style="font-size:8.64px;stroke:#231f20;stroke-width:0.22px">JQ1</text>
<text x="349" y="325.2" text-anchor="middle" textLength="24.3" lengthAdjust="spacingAndGlyphs" style="font-size:8.64px;stroke:#231f20;stroke-width:0.22px">AC220</text>
<text x="389.4" y="325.2" text-anchor="middle" textLength="24.2" lengthAdjust="spacingAndGlyphs" style="font-size:8.64px;stroke:#231f20;stroke-width:0.22px">DMSO</text>
<text x="415.2" y="325.2" text-anchor="middle" textLength="14.4" lengthAdjust="spacingAndGlyphs" style="font-size:8.64px;stroke:#231f20;stroke-width:0.22px">JQ1</text>
<text x="450.5" y="325.2" text-anchor="middle" textLength="23.5" lengthAdjust="spacingAndGlyphs" style="font-size:8.64px;stroke:#231f20;stroke-width:0.22px">DMSO</text>
<text x="485.2" y="325.2" text-anchor="middle" textLength="23.6" lengthAdjust="spacingAndGlyphs" style="font-size:8.64px;stroke:#231f20;stroke-width:0.22px">AC220</text>
<text x="277" y="342.2" text-anchor="end" textLength="19.5" lengthAdjust="spacingAndGlyphs" style="font-size:8.64px;stroke:#231f20;stroke-width:0.22px">p-IKK</text>
<text x="277" y="363" text-anchor="end" textLength="12" lengthAdjust="spacingAndGlyphs" style="font-size:8.64px;stroke:#231f20;stroke-width:0.22px">IKK</text>
<text x="277" y="383" text-anchor="end" textLength="15.5" lengthAdjust="spacingAndGlyphs" style="font-size:8.64px;stroke:#231f20;stroke-width:0.22px">IκBα</text>
<text x="277" y="403.3" text-anchor="end" textLength="27" lengthAdjust="spacingAndGlyphs" style="font-size:8.64px;stroke:#231f20;stroke-width:0.22px">GAPDH</text>
<rect x="279.8" y="329" width="86.7" height="18.3" fill="#f6f6f6" stroke="#111" stroke-width="1.4"/>
<rect x="279.8" y="350.3" width="86.7" height="18.3" fill="#ececec" stroke="#111" stroke-width="1.4"/>
<rect x="279.8" y="371.3" width="86.7" height="18.5" fill="#f6f6f6" stroke="#111" stroke-width="1.4"/>
<rect x="279.8" y="392.6" width="86.7" height="18.6" fill="#f6f6f6" stroke="#111" stroke-width="1.4"/>
<rect x="283.2" y="336.7" width="17.7" height="2.6" rx="1.3" fill="#151515" filter="url(#bl)"/>
<rect x="310.6" y="338.2" width="17.8" height="2.2" rx="1.1" fill="#d0d0d0" filter="url(#bl)"/>
<rect x="340.6" y="338" width="18.8" height="2.4" rx="1.2" fill="#6a6a6a" filter="url(#bl)"/>
<rect x="284.8" y="357.6" width="20.9" height="5.8" rx="2.9" fill="#0a0a0a" filter="url(#bl)"/>
<rect x="287.6" y="354.95" width="13.8" height="2.5" rx="1.25" fill="#555" filter="url(#bl)" opacity="0.6"/>
<rect x="313.1" y="357.8" width="20.1" height="5" rx="2.5" fill="#0d0d0d" filter="url(#bl)"/>
<rect x="339.6" y="357.6" width="21.8" height="5.8" rx="2.9" fill="#0a0a0a" filter="url(#bl)"/>
<rect x="284.8" y="378.8" width="15.6" height="2.4" rx="1.2" fill="#252525" filter="url(#bl)"/>
<rect x="308.6" y="377.8" width="21" height="4.4" rx="2.2" fill="#0d0d0d" filter="url(#bl)"/>
<rect x="337" y="377.7" width="22.7" height="3.8" rx="1.9" fill="#121212" filter="url(#bl)"/>
<rect x="283" y="400.1" width="17.4" height="4" rx="2" fill="#111" filter="url(#bl)"/>
<rect x="311.3" y="400.1" width="19.2" height="4" rx="2" fill="#111" filter="url(#bl)"/>
<rect x="340.6" y="399.9" width="20" height="4.2" rx="2.1" fill="#111" filter="url(#bl)"/>
<rect x="373.4" y="329" width="57.8" height="18.3" fill="#e4e4e4" stroke="#111" stroke-width="1.4"/>
<rect x="373.4" y="350.3" width="57.8" height="18.3" fill="url(#bgT2)" stroke="#111" stroke-width="1.4"/>
<rect x="373.4" y="371.3" width="57.8" height="18.5" fill="url(#bgT3)" stroke="#111" stroke-width="1.4"/>
<rect x="373.4" y="392.6" width="57.8" height="18.6" fill="#f8f8f8" stroke="#111" stroke-width="1.4"/>
<rect x="378.1" y="335.8" width="17.6" height="3" rx="1.5" fill="#111" filter="url(#bl)"/>
<rect x="405.6" y="336.7" width="18.8" height="2.2" rx="1.1" fill="#444" filter="url(#bl)"/>
<rect x="376.9" y="356.4" width="22" height="4.2" rx="2.1" fill="#0d0d0d" filter="url(#bl)"/>
<rect x="404.4" y="356.2" width="22" height="4.2" rx="2.1" fill="#0d0d0d" filter="url(#bl)"/>
<rect x="378.1" y="378.7" width="17.6" height="2.2" rx="1.1" fill="#8a8a8a" filter="url(#bl)"/>
<rect x="404.4" y="377.2" width="20" height="3.6" rx="1.8" fill="#121212" filter="url(#bl)"/>
<rect x="378.1" y="399.5" width="18.8" height="4" rx="2" fill="#0d0d0d" filter="url(#bl)"/>
<rect x="406.9" y="399.5" width="18.8" height="4" rx="2" fill="#0d0d0d" filter="url(#bl)"/>
<rect x="439.2" y="329" width="57.8" height="18.3" fill="#dcdcdc" stroke="#111" stroke-width="1.4"/>
<rect x="439.2" y="350.3" width="57.8" height="18.3" fill="#fafafa" stroke="#111" stroke-width="1.4"/>
<rect x="439.2" y="371.3" width="57.8" height="18.5" fill="#f4f4f4" stroke="#111" stroke-width="1.4"/>
<rect x="439.2" y="392.6" width="57.8" height="18.6" fill="#f8f8f8" stroke="#111" stroke-width="1.4"/>
<rect x="443.1" y="335.6" width="20.8" height="4.4" rx="2.2" fill="#0d0d0d" filter="url(#bl)"/>
<rect x="472.6" y="335.8" width="19.8" height="3" rx="1.5" fill="#222" filter="url(#bl)"/>
<rect x="440.6" y="358.05" width="24.3" height="4.5" rx="2.25" fill="#0a0a0a" filter="url(#bl)"/>
<rect x="474.4" y="358.3" width="18" height="4" rx="2" fill="#0d0d0d" filter="url(#bl)"/>
<rect x="445.6" y="378.1" width="16.3" height="1.8" rx="0.9" fill="#9a9a9a" filter="url(#bl)"/>
<rect x="474.4" y="378.3" width="18" height="4" rx="2" fill="#0d0d0d" filter="url(#bl)"/>
<rect x="443.1" y="400" width="24.3" height="6" rx="3" fill="#080808" filter="url(#bl)"/>
<rect x="471.9" y="400.1" width="20" height="5" rx="2.5" fill="#0a0a0a" filter="url(#bl)"/>
<rect x="133" y="192.9" width="68.7" height="9.5" fill="#e6e6e6" stroke="#111" stroke-width="1.4"/>
<rect x="137.9" y="196.8" width="16.1" height="2.4" rx="1.2" fill="#2a2a2a" filter="url(#bl)"/>
<rect x="162.1" y="197.2" width="12.7" height="1.6" rx="0.8" fill="#c4c4c4" filter="url(#bl)"/>
<rect x="184.6" y="196.7" width="13.5" height="2.2" rx="1.1" fill="#3a3a3a" filter="url(#bl)"/>
<rect x="133" y="215" width="68.7" height="8.7" fill="#d6d6d6" stroke="#111" stroke-width="1.4"/>
<rect x="135.3" y="217.3" width="19.6" height="3.4" rx="1.7" fill="#1a1a1a" filter="url(#bl)"/>
<rect x="158.6" y="217.3" width="20.5" height="3.4" rx="1.7" fill="#1a1a1a" filter="url(#bl)"/>
<rect x="182" y="217.2" width="17.9" height="1.6" rx="0.8" fill="#222" filter="url(#bl)"/>
<rect x="182" y="219.6" width="17.9" height="2" rx="1" fill="#1a1a1a" filter="url(#bl)"/>
<text x="10.64" y="450.2" textLength="8.49" lengthAdjust="spacingAndGlyphs" style="font-size:10.5px;font-weight:bold;stroke:#231f20;stroke-width:0.45px">K</text>
<text x="91.6" y="449.6" text-anchor="middle" textLength="31.5" lengthAdjust="spacingAndGlyphs" style="font-size:8.88px;stroke:#231f20;stroke-width:0.22px">Molm-13</text>
<line x1="52.9" y1="453.5" x2="130.4" y2="453.5" stroke="#231f20" stroke-width="1.3"/>
<text x="181.9" y="449.6" text-anchor="middle" textLength="21.1" lengthAdjust="spacingAndGlyphs" style="font-size:8.88px;stroke:#231f20;stroke-width:0.22px">THP-1</text>
<line x1="141.9" y1="453.5" x2="221.2" y2="453.5" stroke="#231f20" stroke-width="1.3"/>
<text x="297.1" y="449.6" text-anchor="middle" textLength="26.4" lengthAdjust="spacingAndGlyphs" style="font-size:8.88px;stroke:#231f20;stroke-width:0.22px">MV4-11</text>
<line x1="254.3" y1="453.5" x2="340.4" y2="453.5" stroke="#231f20" stroke-width="1.3"/>
<text x="62.4" y="462.2" text-anchor="middle" textLength="17.5" lengthAdjust="spacingAndGlyphs" style="font-size:8.64px;stroke:#231f20;stroke-width:0.22px">DAPI</text>
<text x="92.1" y="462.2" text-anchor="middle" textLength="13" lengthAdjust="spacingAndGlyphs" style="font-size:8.64px;stroke:#231f20;stroke-width:0.22px">p65</text>
<text x="122.2" y="462.2" text-anchor="middle" textLength="23.6" lengthAdjust="spacingAndGlyphs" style="font-size:8.64px;stroke:#231f20;stroke-width:0.22px">Merge</text>
<text x="152.5" y="462.2" text-anchor="middle" textLength="17.5" lengthAdjust="spacingAndGlyphs" style="font-size:8.64px;stroke:#231f20;stroke-width:0.22px">DAPI</text>
<text x="182.4" y="462.2" text-anchor="middle" textLength="13" lengthAdjust="spacingAndGlyphs" style="font-size:8.64px;stroke:#231f20;stroke-width:0.22px">p65</text>
<text x="212.8" y="462.2" text-anchor="middle" textLength="23.6" lengthAdjust="spacingAndGlyphs" style="font-size:8.64px;stroke:#231f20;stroke-width:0.22px">Merge</text>
<text x="269.4" y="462.2" text-anchor="middle" textLength="17.5" lengthAdjust="spacingAndGlyphs" style="font-size:8.64px;stroke:#231f20;stroke-width:0.22px">DAPI</text>
<text x="299.5" y="462.2" text-anchor="middle" textLength="13" lengthAdjust="spacingAndGlyphs" style="font-size:8.64px;stroke:#231f20;stroke-width:0.22px">p65</text>
<text x="330" y="462.2" text-anchor="middle" textLength="23.6" lengthAdjust="spacingAndGlyphs" style="font-size:8.64px;stroke:#231f20;stroke-width:0.22px">Merge</text>
<text x="46.5" y="482" text-anchor="end" textLength="23.5" lengthAdjust="spacingAndGlyphs" style="font-size:9.12px;stroke:#231f20;stroke-width:0.22px">DMSO</text>
<text x="46.5" y="513.1" text-anchor="end" textLength="14.2" lengthAdjust="spacingAndGlyphs" style="font-size:9.12px;stroke:#231f20;stroke-width:0.22px">JQ1</text>
<text x="46.5" y="542.4" text-anchor="end" textLength="24.5" lengthAdjust="spacingAndGlyphs" style="font-size:9.12px;stroke:#231f20;stroke-width:0.22px">AC220</text>
<text x="252.9" y="479" text-anchor="end" textLength="23.3" lengthAdjust="spacingAndGlyphs" style="font-size:9.12px;stroke:#231f20;stroke-width:0.22px">DMSO</text>
<text x="252.9" y="512.7" text-anchor="end" textLength="24.8" lengthAdjust="spacingAndGlyphs" style="font-size:9.12px;stroke:#231f20;stroke-width:0.22px">AC220</text>
<clipPath id="cc1"><rect x="48.6" y="464.6" width="27.4" height="27.3"/></clipPath>
<g clip-path="url(#cc1)">
<rect x="48.6" y="464.6" width="27.4" height="27.3" fill="#0a0505"/>
<ellipse cx="64.4" cy="477.9" rx="8.6" ry="9.2" fill="url(#nuc)" filter="url(#nspk)" transform="rotate(0 64.4 477.9)"/>
</g>
<clipPath id="cc2"><rect x="78.3" y="464.6" width="27.4" height="27.3"/></clipPath>
<g clip-path="url(#cc2)">
<rect x="78.3" y="464.6" width="27.4" height="27.3" fill="#0a0505"/>
<ellipse cx="93.4" cy="477.4" rx="11.3" ry="12.4" fill="#b02c1a" opacity="0.15" filter="url(#rb)"/>
<ellipse cx="93.4" cy="477.4" rx="10.2" ry="11.3" fill="none" stroke="#b02c1a" stroke-width="5.46" opacity="0.36" filter="url(#rb)"/>
<ellipse cx="93.4" cy="477.4" rx="10.2" ry="11.3" fill="none" stroke="#b02c1a" stroke-width="5.46" opacity="0.59" filter="url(#spk)"/>
</g>
<clipPath id="cc3"><rect x="108.4" y="464.6" width="27.4" height="27.3"/></clipPath>
<g clip-path="url(#cc3)">
<rect x="108.4" y="464.6" width="27.4" height="27.3" fill="#0a0505"/>
<ellipse cx="125.6" cy="477.4" rx="12" ry="12.4" fill="#b02c1a" opacity="0.15" filter="url(#rb)"/>
<ellipse cx="125.6" cy="477.4" rx="10.9" ry="11.3" fill="none" stroke="#b02c1a" stroke-width="5.46" opacity="0.38" filter="url(#rb)"/>
<ellipse cx="125.6" cy="477.4" rx="10.9" ry="11.3" fill="none" stroke="#b02c1a" stroke-width="5.46" opacity="0.62" filter="url(#spk)"/>
<ellipse cx="125.8" cy="477.2" rx="9.2" ry="9.2" fill="url(#nucb)" filter="url(#nspk)" transform="rotate(0 125.8 477.2)"/>
</g>
<clipPath id="cc4"><rect x="48.6" y="493.7" width="27.4" height="27.3"/></clipPath>
<g clip-path="url(#cc4)">
<rect x="48.6" y="493.7" width="27.4" height="27.3" fill="#0a0505"/>
<ellipse cx="63.2" cy="508" rx="6.5" ry="8.7" fill="url(#nucd)" filter="url(#nspk)" transform="rotate(10 63.2 508)"/>
</g>
<clipPath id="cc5"><rect x="78.3" y="493.7" width="27.4" height="27.3"/></clipPath>
<g clip-path="url(#cc5)">
<rect x="78.3" y="493.7" width="27.4" height="27.3" fill="#0a0505"/>
<ellipse cx="92.9" cy="507.2" rx="9.8" ry="10.5" fill="#b02c1a" opacity="0.05" filter="url(#rb)"/>
<ellipse cx="92.9" cy="507.2" rx="9.4" ry="10.1" fill="none" stroke="#b02c1a" stroke-width="3.64" opacity="0.12" filter="url(#rb)"/>
<ellipse cx="92.9" cy="507.2" rx="9.4" ry="10.1" fill="none" stroke="#b02c1a" stroke-width="3.64" opacity="0.2" filter="url(#spk)"/>
</g>
<clipPath id="cc6"><rect x="108.4" y="493.7" width="27.4" height="27.3"/></clipPath>
<g clip-path="url(#cc6)">
<rect x="108.4" y="493.7" width="27.4" height="27.3" fill="#0a0505"/>
<ellipse cx="123" cy="507.7" rx="10.5" ry="11" fill="#b02c1a" opacity="0.05" filter="url(#rb)"/>
<ellipse cx="123" cy="507.7" rx="10.1" ry="10.6" fill="none" stroke="#b02c1a" stroke-width="3.64" opacity="0.14" filter="url(#rb)"/>
<ellipse cx="123" cy="507.7" rx="10.1" ry="10.6" fill="none" stroke="#b02c1a" stroke-width="3.64" opacity="0.22" filter="url(#spk)"/>
<ellipse cx="120.2" cy="508" rx="7" ry="8.7" fill="url(#nucd)" filter="url(#nspk)" transform="rotate(0 120.2 508)"/>
</g>
<clipPath id="cc7"><rect x="48.6" y="523.4" width="27.4" height="27.3"/></clipPath>
<g clip-path="url(#cc7)">
<rect x="48.6" y="523.4" width="27.4" height="27.3" fill="#0a0505"/>
<path d="M53.6,531.4 Q54.6,527.4 58.6,526.2 Q62.6,525 66.1,526.45 Q69.6,527.9 71.35,532.15 Q73.1,536.4 71.85,541.15 Q70.6,545.9 66.1,547.15 Q61.6,548.4 58.35,546.15 Q55.1,543.9 53.85,539.65 Q52.6,535.4 53.6,531.4Z" fill="url(#nucd)" filter="url(#nspk)"/>
</g>
<clipPath id="cc8"><rect x="78.3" y="523.4" width="27.4" height="27.3"/></clipPath>
<g clip-path="url(#cc8)">
<rect x="78.3" y="523.4" width="27.4" height="27.3" fill="#0a0505"/>
<ellipse cx="93.4" cy="537" rx="11.5" ry="12" fill="#b02c1a" opacity="0.05" filter="url(#rb)"/>
<ellipse cx="93.4" cy="537" rx="11" ry="11.5" fill="none" stroke="#b02c1a" stroke-width="3.9" opacity="0.12" filter="url(#rb)"/>
<ellipse cx="93.4" cy="537" rx="11" ry="11.5" fill="none" stroke="#b02c1a" stroke-width="3.9" opacity="0.2" filter="url(#spk)"/>
</g>
<clipPath id="cc9"><rect x="108.4" y="523.4" width="27.4" height="27.3"/></clipPath>
<g clip-path="url(#cc9)">
<rect x="108.4" y="523.4" width="27.4" height="27.3" fill="#0a0505"/>
<ellipse cx="123" cy="537" rx="11.5" ry="12" fill="#b02c1a" opacity="0.06" filter="url(#rb)"/>
<ellipse cx="123" cy="537" rx="11" ry="11.5" fill="none" stroke="#b02c1a" stroke-width="3.9" opacity="0.15" filter="url(#rb)"/>
<ellipse cx="123" cy="537" rx="11" ry="11.5" fill="none" stroke="#b02c1a" stroke-width="3.9" opacity="0.25" filter="url(#spk)"/>
<ellipse cx="122" cy="539" rx="9" ry="10" fill="url(#nucd)" filter="url(#nspk)" transform="rotate(0 122 539)"/>
<rect x="127.3" y="547.5" width="7" height="1.5" fill="#ffffff"/>
</g>
<clipPath id="cc10"><rect x="138.7" y="464.6" width="27.4" height="27.3"/></clipPath>
<g clip-path="url(#cc10)">
<rect x="138.7" y="464.6" width="27.4" height="27.3" fill="#0a0505"/>
<path d="M143.95,472.35 Q144.7,469.6 149.7,468.4 Q154.7,467.2 158.7,469.15 Q162.7,471.1 161.7,476.35 Q160.7,481.6 157.2,484.35 Q153.7,487.1 150.7,485.1 Q147.7,483.1 145.45,479.1 Q143.2,475.1 143.95,472.35Z" fill="url(#nucd)" filter="url(#nspk)"/>
</g>
<clipPath id="cc11"><rect x="168.6" y="464.6" width="27.4" height="27.3"/></clipPath>
<g clip-path="url(#cc11)">
<rect x="168.6" y="464.6" width="27.4" height="27.3" fill="#0a0505"/>
<ellipse cx="183.4" cy="477.8" rx="9.8" ry="9" fill="#a82818" opacity="0.13" filter="url(#rb)"/>
<ellipse cx="183.4" cy="477.8" rx="7.3" ry="6.5" fill="none" stroke="#a82818" stroke-width="9.1" opacity="0.33" filter="url(#rb)"/>
<ellipse cx="183.4" cy="477.8" rx="7.3" ry="6.5" fill="none" stroke="#a82818" stroke-width="9.1" opacity="0.54" filter="url(#spk)"/>
</g>
<clipPath id="cc12"><rect x="199" y="464.6" width="27.4" height="27.3"/></clipPath>
<g clip-path="url(#cc12)">
<rect x="199" y="464.6" width="27.4" height="27.3" fill="#0a0505"/>
<ellipse cx="213.8" cy="477.4" rx="11" ry="10" fill="#b02a18" opacity="0.16" filter="url(#rb)"/>
<ellipse cx="213.8" cy="477.4" rx="9" ry="8" fill="none" stroke="#b02a18" stroke-width="7.8" opacity="0.41" filter="url(#rb)"/>
<ellipse cx="213.8" cy="477.4" rx="9" ry="8" fill="none" stroke="#b02a18" stroke-width="7.8" opacity="0.67" filter="url(#spk)"/>
<ellipse cx="213" cy="476.4" rx="8.5" ry="8" fill="url(#nuc)" filter="url(#nspk)" transform="rotate(35 213 476.4)"/>
</g>
<clipPath id="cc13"><rect x="138.7" y="493.7" width="27.4" height="27.3"/></clipPath>
<g clip-path="url(#cc13)">
<rect x="138.7" y="493.7" width="27.4" height="27.3" fill="#0a0505"/>
<ellipse cx="155" cy="507.2" rx="8" ry="8.5" fill="url(#nucd)" filter="url(#nspk)" transform="rotate(0 155 507.2)"/>
</g>
<clipPath id="cc14"><rect x="168.6" y="493.7" width="27.4" height="27.3"/></clipPath>
<g clip-path="url(#cc14)">
<rect x="168.6" y="493.7" width="27.4" height="27.3" fill="#0a0505"/>
<ellipse cx="183.4" cy="506.3" rx="11" ry="11" fill="#b02c1a" opacity="0.04" filter="url(#rb)"/>
<ellipse cx="183.4" cy="506.3" rx="10.7" ry="10.7" fill="none" stroke="#b02c1a" stroke-width="3.38" opacity="0.11" filter="url(#rb)"/>
<ellipse cx="183.4" cy="506.3" rx="10.7" ry="10.7" fill="none" stroke="#b02c1a" stroke-width="3.38" opacity="0.17" filter="url(#spk)"/>
</g>
<clipPath id="cc15"><rect x="199" y="493.7" width="27.4" height="27.3"/></clipPath>
<g clip-path="url(#cc15)">
<rect x="199" y="493.7" width="27.4" height="27.3" fill="#0a0505"/>
<ellipse cx="213.8" cy="506.3" rx="11.5" ry="11" fill="#b02c1a" opacity="0.05" filter="url(#rb)"/>
<ellipse cx="213.8" cy="506.3" rx="11.1" ry="10.6" fill="none" stroke="#b02c1a" stroke-width="3.64" opacity="0.14" filter="url(#rb)"/>
<ellipse cx="213.8" cy="506.3" rx="11.1" ry="10.6" fill="none" stroke="#b02c1a" stroke-width="3.64" opacity="0.22" filter="url(#spk)"/>
<ellipse cx="212.5" cy="507.2" rx="9" ry="8" fill="url(#nucd)" filter="url(#nspk)" transform="rotate(0 212.5 507.2)"/>
<rect x="217.9" y="517.8" width="7" height="1.5" fill="#ffffff"/>
</g>
<clipPath id="cc16"><rect x="255.2" y="465.4" width="28.2" height="28.1"/></clipPath>
<g clip-path="url(#cc16)">
<rect x="255.2" y="465.4" width="28.2" height="28.1" fill="#0a0505"/>
<ellipse cx="269.2" cy="478.4" rx="8.3" ry="7.8" fill="url(#nucb)" filter="url(#nspk)" transform="rotate(0 269.2 478.4)"/>
</g>
<clipPath id="cc17"><rect x="285" y="465.4" width="28.2" height="28.1"/></clipPath>
<g clip-path="url(#cc17)">
<rect x="285" y="465.4" width="28.2" height="28.1" fill="#0a0505"/>
<ellipse cx="299.9" cy="478.7" rx="10.4" ry="11.8" fill="#b02c1a" opacity="0.11" filter="url(#rb)"/>
<ellipse cx="299.9" cy="478.7" rx="9.6" ry="11" fill="none" stroke="#b02c1a" stroke-width="4.68" opacity="0.29" filter="url(#rb)"/>
<ellipse cx="299.9" cy="478.7" rx="9.6" ry="11" fill="none" stroke="#b02c1a" stroke-width="4.68" opacity="0.47" filter="url(#spk)"/>
</g>
<clipPath id="cc18"><rect x="315.7" y="465.4" width="28.2" height="28.1"/></clipPath>
<g clip-path="url(#cc18)">
<rect x="315.7" y="465.4" width="28.2" height="28.1" fill="#0a0505"/>
<ellipse cx="330.7" cy="478.7" rx="11.5" ry="11.8" fill="#b02c1a" opacity="0.13" filter="url(#rb)"/>
<ellipse cx="330.7" cy="478.7" rx="10.6" ry="10.9" fill="none" stroke="#b02c1a" stroke-width="4.94" opacity="0.33" filter="url(#rb)"/>
<ellipse cx="330.7" cy="478.7" rx="10.6" ry="10.9" fill="none" stroke="#b02c1a" stroke-width="4.94" opacity="0.54" filter="url(#spk)"/>
<ellipse cx="330.2" cy="478.4" rx="9" ry="8.5" fill="url(#nucb)" filter="url(#nspk)" transform="rotate(0 330.2 478.4)"/>
</g>
<clipPath id="cc19"><rect x="255.2" y="495" width="28.2" height="28.1"/></clipPath>
<g clip-path="url(#cc19)">
<rect x="255.2" y="495" width="28.2" height="28.1" fill="#0a0505"/>
<ellipse cx="267.4" cy="508.1" rx="8.5" ry="8" fill="url(#nucd)" filter="url(#nspk)" transform="rotate(0 267.4 508.1)"/>
</g>
<clipPath id="cc20"><rect x="285" y="495" width="28.2" height="28.1"/></clipPath>
<g clip-path="url(#cc20)">
<rect x="285" y="495" width="28.2" height="28.1" fill="#0a0505"/>
<ellipse cx="299.9" cy="508.1" rx="11" ry="11.5" fill="#b02c1a" opacity="0.08" filter="url(#rb)"/>
<ellipse cx="299.9" cy="508.1" rx="10.5" ry="11" fill="none" stroke="#b02c1a" stroke-width="3.9" opacity="0.2" filter="url(#rb)"/>
<ellipse cx="299.9" cy="508.1" rx="10.5" ry="11" fill="none" stroke="#b02c1a" stroke-width="3.9" opacity="0.32" filter="url(#spk)"/>
</g>
<clipPath id="cc21"><rect x="315.7" y="495" width="28.2" height="28.1"/></clipPath>
<g clip-path="url(#cc21)">
<rect x="315.7" y="495" width="28.2" height="28.1" fill="#0a0505"/>
<ellipse cx="329.7" cy="508.1" rx="11.5" ry="11.8" fill="#b02c1a" opacity="0.1" filter="url(#rb)"/>
<ellipse cx="329.7" cy="508.1" rx="10.8" ry="11.1" fill="none" stroke="#b02c1a" stroke-width="4.42" opacity="0.24" filter="url(#rb)"/>
<ellipse cx="329.7" cy="508.1" rx="10.8" ry="11.1" fill="none" stroke="#b02c1a" stroke-width="4.42" opacity="0.4" filter="url(#spk)"/>
<ellipse cx="329.2" cy="510" rx="8" ry="8.5" fill="url(#nucd)" filter="url(#nspk)" transform="rotate(0 329.2 510)"/>
<rect x="335.4" y="519.9" width="7" height="1.5" fill="#ffffff"/>
</g>
<line x1="381.5" y1="446.3" x2="381.5" y2="538.9" stroke="#231f20" stroke-width="1.3"/>
<line x1="378.9" y1="446.5" x2="381.9" y2="446.5" stroke="#231f20" stroke-width="1.3"/>
<text x="376.3" y="449.41" text-anchor="end" textLength="12.01" lengthAdjust="spacingAndGlyphs" style="font-size:8.64px;stroke:#231f20;stroke-width:0.22px">500</text>
<line x1="378.9" y1="464.5" x2="381.9" y2="464.5" stroke="#231f20" stroke-width="1.3"/>
<text x="376.3" y="467.71" text-anchor="end" textLength="12.01" lengthAdjust="spacingAndGlyphs" style="font-size:8.64px;stroke:#231f20;stroke-width:0.22px">400</text>
<line x1="378.9" y1="483.5" x2="381.9" y2="483.5" stroke="#231f20" stroke-width="1.3"/>
<text x="376.3" y="486.41" text-anchor="end" textLength="12.01" lengthAdjust="spacingAndGlyphs" style="font-size:8.64px;stroke:#231f20;stroke-width:0.22px">300</text>
<line x1="378.9" y1="501.5" x2="381.9" y2="501.5" stroke="#231f20" stroke-width="1.3"/>
<text x="376.3" y="504.61" text-anchor="end" textLength="12.01" lengthAdjust="spacingAndGlyphs" style="font-size:8.64px;stroke:#231f20;stroke-width:0.22px">200</text>
<line x1="378.9" y1="520.5" x2="381.9" y2="520.5" stroke="#231f20" stroke-width="1.3"/>
<text x="376.3" y="523.51" text-anchor="end" textLength="12.01" lengthAdjust="spacingAndGlyphs" style="font-size:8.64px;stroke:#231f20;stroke-width:0.22px">100</text>
<line x1="378.9" y1="538.5" x2="381.9" y2="538.5" stroke="#231f20" stroke-width="1.3"/>
<text x="376.3" y="541.81" text-anchor="end" textLength="4" lengthAdjust="spacingAndGlyphs" style="font-size:8.64px;stroke:#231f20;stroke-width:0.22px">0</text>
<line x1="381.9" y1="538.5" x2="471.5" y2="538.5" stroke="#231f20" stroke-width="1.3"/>
<line x1="397.5" y1="538.9" x2="397.5" y2="541.7" stroke="#231f20" stroke-width="1.3"/>
<line x1="426.5" y1="538.9" x2="426.5" y2="541.7" stroke="#231f20" stroke-width="1.3"/>
<line x1="455.5" y1="538.9" x2="455.5" y2="541.7" stroke="#231f20" stroke-width="1.3"/>
<rect x="386.9" y="473.3" width="6.8" height="65.6" fill="#134f86"/>
<line x1="390.5" y1="473.3" x2="390.5" y2="458.5" stroke="#231f20" stroke-width="1.3"/>
<line x1="388.5" y1="458.5" x2="392.1" y2="458.5" stroke="#231f20" stroke-width="1.4"/>
<rect x="393.7" y="518.8" width="7.1" height="20.1" fill="#fd8c00"/>
<line x1="397.5" y1="518.8" x2="397.5" y2="514.6" stroke="#231f20" stroke-width="1.3"/>
<line x1="395.45" y1="514.5" x2="399.05" y2="514.5" stroke="#231f20" stroke-width="1.4"/>
<rect x="400.8" y="516.5" width="7.3" height="22.4" fill="#f8b91e"/>
<line x1="404.5" y1="516.5" x2="404.5" y2="512.3" stroke="#231f20" stroke-width="1.3"/>
<line x1="402.65" y1="512.5" x2="406.25" y2="512.5" stroke="#231f20" stroke-width="1.4"/>
<rect x="418" y="489" width="6.8" height="49.9" fill="#134f86"/>
<line x1="421.5" y1="489" x2="421.5" y2="476.7" stroke="#231f20" stroke-width="1.3"/>
<line x1="419.6" y1="476.5" x2="423.2" y2="476.5" stroke="#231f20" stroke-width="1.4"/>
<rect x="424.8" y="522.3" width="7.3" height="16.6" fill="#fd8c00"/>
<line x1="428.5" y1="522.3" x2="428.5" y2="519.4" stroke="#231f20" stroke-width="1.3"/>
<line x1="426.65" y1="519.5" x2="430.25" y2="519.5" stroke="#231f20" stroke-width="1.4"/>
<rect x="450.2" y="485.2" width="7.3" height="53.7" fill="#134f86"/>
<line x1="453.5" y1="485.2" x2="453.5" y2="474.6" stroke="#231f20" stroke-width="1.3"/>
<line x1="452.05" y1="474.5" x2="455.65" y2="474.5" stroke="#231f20" stroke-width="1.4"/>
<rect x="457.5" y="512.1" width="7.1" height="26.8" fill="#f8b91e"/>
<line x1="461.5" y1="512.1" x2="461.5" y2="508.8" stroke="#231f20" stroke-width="1.3"/>
<line x1="459.25" y1="508.5" x2="462.85" y2="508.5" stroke="#231f20" stroke-width="1.4"/>
<polyline points="388.5,451.7 388.5,447.5 403.5,447.5 403.5,451.7" fill="none" stroke="#231f20" stroke-width="1.2"/>
<text x="396" y="449" text-anchor="middle" textLength="5.6" lengthAdjust="spacingAndGlyphs" style="font-size:7.8px;stroke:#231f20;stroke-width:0.22px">**</text>
<polyline points="388.5,459.4 388.5,455.5 397.5,455.5 397.5,459.4" fill="none" stroke="#231f20" stroke-width="1.2"/>
<text x="392.6" y="456.7" text-anchor="middle" textLength="8.7" lengthAdjust="spacingAndGlyphs" style="font-size:7.8px;stroke:#231f20;stroke-width:0.22px">***</text>
<polyline points="420.5,476.2 420.5,471.5 430.5,471.5 430.5,476.2" fill="none" stroke="#231f20" stroke-width="1.2"/>
<text x="425" y="473.2" text-anchor="middle" textLength="5.6" lengthAdjust="spacingAndGlyphs" style="font-size:7.8px;stroke:#231f20;stroke-width:0.22px">**</text>
<polyline points="453.5,473 453.5,468.5 464.5,468.5 464.5,473" fill="none" stroke="#231f20" stroke-width="1.2"/>
<text x="459" y="469.3" text-anchor="middle" textLength="5.6" lengthAdjust="spacingAndGlyphs" style="font-size:7.8px;stroke:#231f20;stroke-width:0.22px">**</text>
<rect x="469" y="447.1" width="9.1" height="4.2" fill="#134f86"/>
<text x="480.2" y="451.6" textLength="22.5" lengthAdjust="spacingAndGlyphs" style="font-size:7.56px;stroke:#231f20;stroke-width:0.12px">DMSO</text>
<rect x="469" y="459.6" width="9.1" height="4.2" fill="#fd8c00"/>
<text x="480.2" y="464.1" textLength="13.2" lengthAdjust="spacingAndGlyphs" style="font-size:7.56px;stroke:#231f20;stroke-width:0.12px">JQ1</text>
<rect x="469" y="472.1" width="9.1" height="4.2" fill="#f8b91e"/>
<text x="480.2" y="476.6" textLength="23.5" lengthAdjust="spacingAndGlyphs" style="font-size:7.56px;stroke:#231f20;stroke-width:0.12px">AC220</text>
<text x="358.21" y="492.3" text-anchor="middle" transform="rotate(-90 358.21 492.3)" textLength="59.2" lengthAdjust="spacingAndGlyphs" style="font-size:8.64px;stroke:#231f20;stroke-width:0.22px">Nuclear p65 (MFI)</text>
<text x="391.2" y="552.8" text-anchor="middle" textLength="30.7" lengthAdjust="spacingAndGlyphs" style="font-size:8.4px;stroke:#231f20;stroke-width:0.22px">Molm-13</text>
<text x="426" y="552.8" text-anchor="middle" textLength="20.3" lengthAdjust="spacingAndGlyphs" style="font-size:8.4px;stroke:#231f20;stroke-width:0.22px">THP-1</text>
<text x="460" y="552.8" text-anchor="middle" textLength="25.9" lengthAdjust="spacingAndGlyphs" style="font-size:8.4px;stroke:#231f20;stroke-width:0.22px">MV4-11</text>
<text x="9.99" y="571.7" textLength="7.18" lengthAdjust="spacingAndGlyphs" style="font-size:10.5px;font-weight:bold;stroke:#231f20;stroke-width:0.45px">L</text>
<line x1="50.5" y1="566.4" x2="50.5" y2="658.9" stroke="#231f20" stroke-width="1.3"/>
<line x1="47.6" y1="566.5" x2="50.6" y2="566.5" stroke="#231f20" stroke-width="1.3"/>
<text x="45" y="569.51" text-anchor="end" textLength="10.01" lengthAdjust="spacingAndGlyphs" style="font-size:8.64px;stroke:#231f20;stroke-width:0.22px">1.2</text>
<line x1="47.6" y1="596.5" x2="50.6" y2="596.5" stroke="#231f20" stroke-width="1.3"/>
<text x="45" y="599.81" text-anchor="end" textLength="10.01" lengthAdjust="spacingAndGlyphs" style="font-size:8.64px;stroke:#231f20;stroke-width:0.22px">0.8</text>
<line x1="47.6" y1="627.5" x2="50.6" y2="627.5" stroke="#231f20" stroke-width="1.3"/>
<text x="45" y="630.81" text-anchor="end" textLength="10.01" lengthAdjust="spacingAndGlyphs" style="font-size:8.64px;stroke:#231f20;stroke-width:0.22px">0.4</text>
<line x1="47.6" y1="658.5" x2="50.6" y2="658.5" stroke="#231f20" stroke-width="1.3"/>
<text x="45" y="661.81" text-anchor="end" textLength="10.01" lengthAdjust="spacingAndGlyphs" style="font-size:8.64px;stroke:#231f20;stroke-width:0.22px">0.0</text>
<line x1="50.6" y1="658.5" x2="139.5" y2="658.5" stroke="#231f20" stroke-width="1.3"/>
<line x1="68.5" y1="658.9" x2="68.5" y2="661.7" stroke="#231f20" stroke-width="1.3"/>
<line x1="99.5" y1="658.9" x2="99.5" y2="661.7" stroke="#231f20" stroke-width="1.3"/>
<line x1="125.5" y1="658.9" x2="125.5" y2="661.7" stroke="#231f20" stroke-width="1.3"/>
<rect x="55.4" y="581.9" width="8.6" height="77" fill="#134f86"/>
<rect x="64" y="609.1" width="8.7" height="49.8" fill="#fd8c00"/>
<line x1="68.5" y1="609.1" x2="68.5" y2="599.2" stroke="#231f20" stroke-width="1.3"/>
<line x1="66.55" y1="599.5" x2="70.15" y2="599.5" stroke="#231f20" stroke-width="1.4"/>
<rect x="72.7" y="620.3" width="8.9" height="38.6" fill="#f8b91e"/>
<line x1="77.5" y1="620.3" x2="77.5" y2="611.2" stroke="#231f20" stroke-width="1.3"/>
<line x1="75.35" y1="611.5" x2="78.95" y2="611.5" stroke="#231f20" stroke-width="1.4"/>
<rect x="91" y="581.9" width="8.7" height="77" fill="#134f86"/>
<rect x="99.7" y="618.6" width="8.9" height="40.3" fill="#fd8c00"/>
<line x1="104.5" y1="618.6" x2="104.5" y2="607.7" stroke="#231f20" stroke-width="1.3"/>
<line x1="102.35" y1="607.5" x2="105.95" y2="607.5" stroke="#231f20" stroke-width="1.4"/>
<rect x="117" y="581.9" width="8.7" height="77" fill="#134f86"/>
<rect x="125.7" y="625.2" width="8.7" height="33.7" fill="#f8b91e"/>
<line x1="130.5" y1="625.2" x2="130.5" y2="614.9" stroke="#231f20" stroke-width="1.3"/>
<line x1="128.25" y1="614.5" x2="131.85" y2="614.5" stroke="#231f20" stroke-width="1.4"/>
<polyline points="57.5,575.7 57.5,571.5 77.5,571.5 77.5,576.7" fill="none" stroke="#231f20" stroke-width="1.2"/>
<text x="67.5" y="572.8" text-anchor="middle" textLength="2.5" lengthAdjust="spacingAndGlyphs" style="font-size:7.8px;stroke:#231f20;stroke-width:0.22px">*</text>
<polyline points="57.5,581.4 57.5,577.5 67.5,577.5 67.5,581.4" fill="none" stroke="#231f20" stroke-width="1.2"/>
<text x="62.5" y="578.6" text-anchor="middle" textLength="2.5" lengthAdjust="spacingAndGlyphs" style="font-size:7.8px;stroke:#231f20;stroke-width:0.22px">*</text>
<polyline points="94.5,581.4 94.5,577.5 104.5,577.5 104.5,581.4" fill="none" stroke="#231f20" stroke-width="1.2"/>
<text x="99.5" y="578.6" text-anchor="middle" textLength="2.5" lengthAdjust="spacingAndGlyphs" style="font-size:7.8px;stroke:#231f20;stroke-width:0.22px">*</text>
<polyline points="119.5,581.4 119.5,577.5 131.5,577.5 131.5,581.4" fill="none" stroke="#231f20" stroke-width="1.2"/>
<text x="125.4" y="578.6" text-anchor="middle" textLength="2.5" lengthAdjust="spacingAndGlyphs" style="font-size:7.8px;stroke:#231f20;stroke-width:0.22px">*</text>
<text x="28.41" y="612.3" text-anchor="middle" transform="rotate(-90 28.41 612.3)" textLength="77.4" lengthAdjust="spacingAndGlyphs" style="font-size:8.64px;stroke:#231f20;stroke-width:0.22px">NF-κB luciferase activity</text>
<text x="71.4" y="671.2" text-anchor="end" transform="rotate(-45 71.4 671.2)" textLength="30.5" lengthAdjust="spacingAndGlyphs" style="font-size:9px;stroke:#231f20;stroke-width:0.22px">Molm-13</text>
<text x="101.6" y="671.2" text-anchor="end" transform="rotate(-45 101.6 671.2)" textLength="20" lengthAdjust="spacingAndGlyphs" style="font-size:9px;stroke:#231f20;stroke-width:0.22px">THP-1</text>
<text x="127.7" y="671.2" text-anchor="end" transform="rotate(-45 127.7 671.2)" textLength="25.5" lengthAdjust="spacingAndGlyphs" style="font-size:9px;stroke:#231f20;stroke-width:0.22px">MV4-11</text>
<text x="151.38" y="572" textLength="9.8" lengthAdjust="spacingAndGlyphs" style="font-size:10.5px;font-weight:bold;stroke:#231f20;stroke-width:0.45px">M</text>
<line x1="183.5" y1="566.6" x2="183.5" y2="658.9" stroke="#231f20" stroke-width="1.3"/>
<line x1="180.2" y1="566.5" x2="183.2" y2="566.5" stroke="#231f20" stroke-width="1.3"/>
<text x="177.6" y="569.71" text-anchor="end" textLength="10.01" lengthAdjust="spacingAndGlyphs" style="font-size:8.64px;stroke:#231f20;stroke-width:0.22px">1.0</text>
<line x1="180.2" y1="585.5" x2="183.2" y2="585.5" stroke="#231f20" stroke-width="1.3"/>
<text x="177.6" y="588.41" text-anchor="end" textLength="10.01" lengthAdjust="spacingAndGlyphs" style="font-size:8.64px;stroke:#231f20;stroke-width:0.22px">0.8</text>
<line x1="180.2" y1="603.5" x2="183.2" y2="603.5" stroke="#231f20" stroke-width="1.3"/>
<text x="177.6" y="606.81" text-anchor="end" textLength="10.01" lengthAdjust="spacingAndGlyphs" style="font-size:8.64px;stroke:#231f20;stroke-width:0.22px">0.6</text>
<line x1="180.2" y1="622.5" x2="183.2" y2="622.5" stroke="#231f20" stroke-width="1.3"/>
<text x="177.6" y="625.21" text-anchor="end" textLength="10.01" lengthAdjust="spacingAndGlyphs" style="font-size:8.64px;stroke:#231f20;stroke-width:0.22px">0.4</text>
<line x1="180.2" y1="640.5" x2="183.2" y2="640.5" stroke="#231f20" stroke-width="1.3"/>
<text x="177.6" y="643.61" text-anchor="end" textLength="10.01" lengthAdjust="spacingAndGlyphs" style="font-size:8.64px;stroke:#231f20;stroke-width:0.22px">0.2</text>
<line x1="180.2" y1="658.5" x2="183.2" y2="658.5" stroke="#231f20" stroke-width="1.3"/>
<text x="177.6" y="661.81" text-anchor="end" textLength="10.01" lengthAdjust="spacingAndGlyphs" style="font-size:8.64px;stroke:#231f20;stroke-width:0.22px">0.0</text>
<line x1="183.2" y1="658.5" x2="266.3" y2="658.5" stroke="#231f20" stroke-width="1.3"/>
<line x1="204.5" y1="658.9" x2="204.5" y2="661.7" stroke="#231f20" stroke-width="1.3"/>
<line x1="245.5" y1="658.9" x2="245.5" y2="661.7" stroke="#231f20" stroke-width="1.3"/>
<rect x="188.5" y="657" width="10.2" height="1.9" fill="#134f86"/>
<line x1="193.5" y1="657" x2="193.5" y2="655" stroke="#231f20" stroke-width="1.3"/>
<line x1="191.6" y1="655.5" x2="195.6" y2="655.5" stroke="#231f20" stroke-width="1.4"/>
<rect x="198.7" y="656.6" width="10.1" height="2.3" fill="#fd8c00"/>
<line x1="203.5" y1="656.6" x2="203.5" y2="654" stroke="#231f20" stroke-width="1.3"/>
<line x1="201.75" y1="654.5" x2="205.75" y2="654.5" stroke="#231f20" stroke-width="1.4"/>
<rect x="208.8" y="656.6" width="10" height="2.3" fill="#f8b91e"/>
<line x1="213.5" y1="656.6" x2="213.5" y2="655" stroke="#231f20" stroke-width="1.3"/>
<line x1="211.8" y1="655.5" x2="215.8" y2="655.5" stroke="#231f20" stroke-width="1.4"/>
<rect x="230" y="584.6" width="10" height="74.3" fill="#134f86"/>
<line x1="235.5" y1="584.6" x2="235.5" y2="581.4" stroke="#231f20" stroke-width="1.3"/>
<line x1="233" y1="581.5" x2="237" y2="581.5" stroke="#231f20" stroke-width="1.4"/>
<rect x="240" y="644.3" width="10" height="14.6" fill="#fd8c00"/>
<line x1="245.5" y1="644.3" x2="245.5" y2="638.6" stroke="#231f20" stroke-width="1.3"/>
<line x1="243" y1="638.5" x2="247" y2="638.5" stroke="#231f20" stroke-width="1.4"/>
<rect x="250" y="633.3" width="10" height="25.6" fill="#f8b91e"/>
<line x1="255.5" y1="633.3" x2="255.5" y2="622.7" stroke="#231f20" stroke-width="1.3"/>
<line x1="253" y1="622.5" x2="257" y2="622.5" stroke="#231f20" stroke-width="1.4"/>
<polyline points="233.5,573 233.5,568.5 255.5,568.5 255.5,573" fill="none" stroke="#231f20" stroke-width="1.2"/>
<text x="244.7" y="570.1" text-anchor="middle" textLength="5.6" lengthAdjust="spacingAndGlyphs" style="font-size:7.8px;stroke:#231f20;stroke-width:0.22px">**</text>
<polyline points="233.5,581.4 233.5,577.5 246.5,577.5 246.5,581.4" fill="none" stroke="#231f20" stroke-width="1.2"/>
<text x="240" y="578.5" text-anchor="middle" textLength="11.8" lengthAdjust="spacingAndGlyphs" style="font-size:7.8px;stroke:#231f20;stroke-width:0.22px">****</text>
<polyline points="193.5,639.2 193.5,635.5 218.5,635.5 218.5,639.2" fill="none" stroke="#231f20" stroke-width="1.2"/>
<text x="206" y="632.6" text-anchor="middle" textLength="10.5" lengthAdjust="spacingAndGlyphs" style="font-size:8.4px;stroke:#231f20;stroke-width:0.22px">NS</text>
<polyline points="193.5,654 193.5,650.5 205.5,650.5 205.5,654" fill="none" stroke="#231f20" stroke-width="1.2"/>
<text x="199.6" y="648.6" text-anchor="middle" textLength="10.5" lengthAdjust="spacingAndGlyphs" style="font-size:8.4px;stroke:#231f20;stroke-width:0.22px">NS</text>
<text x="220" y="564.3" text-anchor="middle" textLength="30" lengthAdjust="spacingAndGlyphs" style="font-size:8.16px;stroke:#231f20;stroke-width:0.22px">Molm-13</text>
<text x="159.5" y="612" text-anchor="middle" transform="rotate(-90 159.5 612)" textLength="25" lengthAdjust="spacingAndGlyphs" style="font-size:8.88px;stroke:#231f20;stroke-width:0.22px">% Input</text>
<text x="204" y="673.2" text-anchor="middle" textLength="12.7" lengthAdjust="spacingAndGlyphs" style="font-size:8.64px;stroke:#231f20;stroke-width:0.22px">IgG</text>
<text x="245.7" y="673.2" text-anchor="middle" textLength="22.2" lengthAdjust="spacingAndGlyphs" style="font-size:8.64px;stroke:#231f20;stroke-width:0.22px">NF-κB</text>
<line x1="300.5" y1="566.3" x2="300.5" y2="658.2" stroke="#231f20" stroke-width="1.3"/>
<line x1="297.5" y1="566.5" x2="300.5" y2="566.5" stroke="#231f20" stroke-width="1.3"/>
<text x="294.9" y="569.41" text-anchor="end" textLength="10.01" lengthAdjust="spacingAndGlyphs" style="font-size:8.64px;stroke:#231f20;stroke-width:0.22px">1.5</text>
<line x1="297.5" y1="596.5" x2="300.5" y2="596.5" stroke="#231f20" stroke-width="1.3"/>
<text x="294.9" y="599.91" text-anchor="end" textLength="10.01" lengthAdjust="spacingAndGlyphs" style="font-size:8.64px;stroke:#231f20;stroke-width:0.22px">1.0</text>
<line x1="297.5" y1="627.5" x2="300.5" y2="627.5" stroke="#231f20" stroke-width="1.3"/>
<text x="294.9" y="630.61" text-anchor="end" textLength="10.01" lengthAdjust="spacingAndGlyphs" style="font-size:8.64px;stroke:#231f20;stroke-width:0.22px">0.5</text>
<line x1="297.5" y1="658.5" x2="300.5" y2="658.5" stroke="#231f20" stroke-width="1.3"/>
<text x="294.9" y="661.11" text-anchor="end" textLength="10.01" lengthAdjust="spacingAndGlyphs" style="font-size:8.64px;stroke:#231f20;stroke-width:0.22px">0.0</text>
<line x1="300.5" y1="658.5" x2="384.5" y2="658.5" stroke="#231f20" stroke-width="1.3"/>
<line x1="319.5" y1="658.2" x2="319.5" y2="661" stroke="#231f20" stroke-width="1.3"/>
<line x1="355.5" y1="658.2" x2="355.5" y2="661" stroke="#231f20" stroke-width="1.3"/>
<rect x="307" y="656.8" width="12" height="1.4" fill="#134f86"/>
<line x1="313.5" y1="656.8" x2="313.5" y2="655.5" stroke="#231f20" stroke-width="1.3"/>
<line x1="311" y1="655.5" x2="315" y2="655.5" stroke="#231f20" stroke-width="1.4"/>
<rect x="319" y="653.3" width="12.3" height="4.9" fill="#fd8c00"/>
<line x1="325.5" y1="653.3" x2="325.5" y2="646.8" stroke="#231f20" stroke-width="1.3"/>
<line x1="323.15" y1="646.5" x2="327.15" y2="646.5" stroke="#231f20" stroke-width="1.4"/>
<rect x="343.8" y="603.8" width="12" height="54.4" fill="#134f86"/>
<line x1="349.5" y1="603.8" x2="349.5" y2="598.8" stroke="#231f20" stroke-width="1.3"/>
<line x1="347.8" y1="598.5" x2="351.8" y2="598.5" stroke="#231f20" stroke-width="1.4"/>
<rect x="355.8" y="641.8" width="11.7" height="16.4" fill="#fd8c00"/>
<line x1="361.5" y1="641.8" x2="361.5" y2="638.8" stroke="#231f20" stroke-width="1.3"/>
<line x1="359.65" y1="638.5" x2="363.65" y2="638.5" stroke="#231f20" stroke-width="1.4"/>
<polyline points="312.5,644.5 312.5,640.5 325.5,640.5 325.5,644.5" fill="none" stroke="#231f20" stroke-width="1.2"/>
<text x="318.5" y="637.6" text-anchor="middle" textLength="10.5" lengthAdjust="spacingAndGlyphs" style="font-size:8.4px;stroke:#231f20;stroke-width:0.22px">NS</text>
<polyline points="348.5,596.3 348.5,592.5 363.5,592.5 363.5,596.3" fill="none" stroke="#231f20" stroke-width="1.2"/>
<text x="355.9" y="593.3" text-anchor="middle" textLength="8.7" lengthAdjust="spacingAndGlyphs" style="font-size:7.8px;stroke:#231f20;stroke-width:0.22px">***</text>
<text x="327" y="565" text-anchor="middle" textLength="21.3" lengthAdjust="spacingAndGlyphs" style="font-size:8.16px;stroke:#231f20;stroke-width:0.22px">THP-1</text>
<text x="279.4" y="612.5" text-anchor="middle" transform="rotate(-90 279.4 612.5)" textLength="25" lengthAdjust="spacingAndGlyphs" style="font-size:8.88px;stroke:#231f20;stroke-width:0.22px">% Input</text>
<text x="319.5" y="673.2" text-anchor="middle" textLength="12.7" lengthAdjust="spacingAndGlyphs" style="font-size:8.64px;stroke:#231f20;stroke-width:0.22px">IgG</text>
<text x="355.8" y="673.2" text-anchor="middle" textLength="22.2" lengthAdjust="spacingAndGlyphs" style="font-size:8.64px;stroke:#231f20;stroke-width:0.22px">NF-κB</text>
<line x1="408.5" y1="567.1" x2="408.5" y2="658.1" stroke="#231f20" stroke-width="1.3"/>
<line x1="405.3" y1="567.5" x2="408.3" y2="567.5" stroke="#231f20" stroke-width="1.3"/>
<text x="402.7" y="570.21" text-anchor="end" textLength="10.01" lengthAdjust="spacingAndGlyphs" style="font-size:8.64px;stroke:#231f20;stroke-width:0.22px">1.5</text>
<line x1="405.3" y1="597.5" x2="408.3" y2="597.5" stroke="#231f20" stroke-width="1.3"/>
<text x="402.7" y="600.61" text-anchor="end" textLength="10.01" lengthAdjust="spacingAndGlyphs" style="font-size:8.64px;stroke:#231f20;stroke-width:0.22px">1.0</text>
<line x1="405.3" y1="627.5" x2="408.3" y2="627.5" stroke="#231f20" stroke-width="1.3"/>
<text x="402.7" y="630.81" text-anchor="end" textLength="10.01" lengthAdjust="spacingAndGlyphs" style="font-size:8.64px;stroke:#231f20;stroke-width:0.22px">0.5</text>
<line x1="405.3" y1="657.5" x2="408.3" y2="657.5" stroke="#231f20" stroke-width="1.3"/>
<text x="402.7" y="661.01" text-anchor="end" textLength="10.01" lengthAdjust="spacingAndGlyphs" style="font-size:8.64px;stroke:#231f20;stroke-width:0.22px">0.0</text>
<line x1="408.3" y1="658.5" x2="470.2" y2="658.5" stroke="#231f20" stroke-width="1.3"/>
<line x1="423.5" y1="658.1" x2="423.5" y2="660.9" stroke="#231f20" stroke-width="1.3"/>
<line x1="454.5" y1="658.1" x2="454.5" y2="660.9" stroke="#231f20" stroke-width="1.3"/>
<rect x="415.8" y="657.2" width="7.2" height="0.9" fill="#134f86"/>
<rect x="425.8" y="657.2" width="7.5" height="0.9" fill="#b08a20"/>
<rect x="445.4" y="608" width="9.4" height="50.1" fill="#134f86"/>
<line x1="450.5" y1="608" x2="450.5" y2="597.5" stroke="#231f20" stroke-width="1.3"/>
<line x1="448.1" y1="597.5" x2="452.1" y2="597.5" stroke="#231f20" stroke-width="1.4"/>
<rect x="454.8" y="635.8" width="10" height="22.3" fill="#f8b91e"/>
<line x1="459.5" y1="635.8" x2="459.5" y2="629" stroke="#231f20" stroke-width="1.3"/>
<line x1="457.8" y1="629.5" x2="461.8" y2="629.5" stroke="#231f20" stroke-width="1.4"/>
<polyline points="417.5,655.6 417.5,650.5 429.5,650.5 429.5,655.6" fill="none" stroke="#231f20" stroke-width="1.2"/>
<text x="423.8" y="648.2" text-anchor="middle" textLength="10.5" lengthAdjust="spacingAndGlyphs" style="font-size:8.4px;stroke:#231f20;stroke-width:0.22px">NS</text>
<polyline points="450.5,596.5 450.5,591.5 464.5,591.5 464.5,596.5" fill="none" stroke="#231f20" stroke-width="1.2"/>
<text x="457.7" y="592.6" text-anchor="middle" textLength="2.5" lengthAdjust="spacingAndGlyphs" style="font-size:7.8px;stroke:#231f20;stroke-width:0.22px">*</text>
<text x="438" y="566.3" text-anchor="middle" textLength="27" lengthAdjust="spacingAndGlyphs" style="font-size:8.16px;stroke:#231f20;stroke-width:0.22px">MV4-11</text>
<text x="387.8" y="614.2" text-anchor="middle" transform="rotate(-90 387.8 614.2)" textLength="25" lengthAdjust="spacingAndGlyphs" style="font-size:8.88px;stroke:#231f20;stroke-width:0.22px">% Input</text>
<text x="424.1" y="673.5" text-anchor="middle" textLength="12.9" lengthAdjust="spacingAndGlyphs" style="font-size:8.64px;stroke:#231f20;stroke-width:0.22px">IgG</text>
<text x="455" y="673.5" text-anchor="middle" textLength="22" lengthAdjust="spacingAndGlyphs" style="font-size:8.64px;stroke:#231f20;stroke-width:0.22px">NF-κB</text>
<rect x="468.8" y="565.1" width="9.5" height="4" fill="#134f86"/>
<text x="479.8" y="569.5" textLength="22" lengthAdjust="spacingAndGlyphs" style="font-size:7.56px;stroke:#231f20;stroke-width:0.12px">DMSO</text>
<rect x="468.8" y="577.2" width="9.5" height="4" fill="#fd8c00"/>
<text x="479.8" y="581.6" textLength="12.8" lengthAdjust="spacingAndGlyphs" style="font-size:7.56px;stroke:#231f20;stroke-width:0.12px">JQ1</text>
<rect x="468.8" y="589.3" width="9.5" height="4" fill="#f8b91e"/>
<text x="479.8" y="593.7" textLength="23.5" lengthAdjust="spacingAndGlyphs" style="font-size:7.56px;stroke:#231f20;stroke-width:0.12px">AC220</text>
</svg>
</body></html>
